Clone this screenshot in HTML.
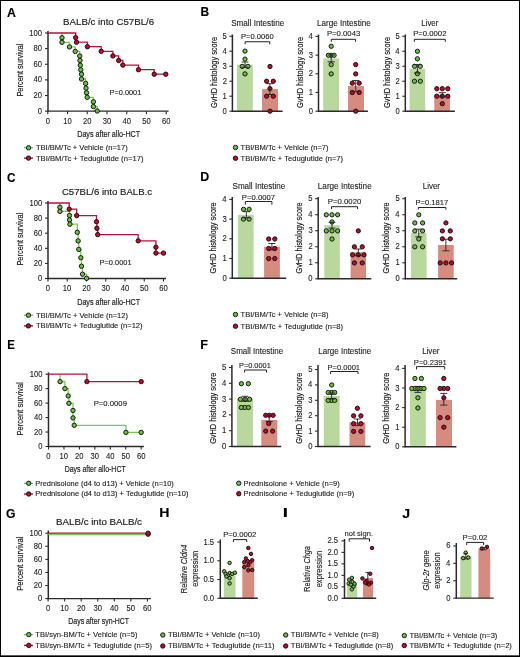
<!DOCTYPE html>
<html><head><meta charset="utf-8"><style>
html,body{margin:0;padding:0;background:#fff;}
svg{display:block;font-family:"Liberation Sans",sans-serif;will-change:transform;}
</style></head><body>
<svg width="520" height="657" viewBox="0 0 520 657">
<rect x="0" y="0" width="520" height="657" fill="#fff"/>
<text x="6.99" y="16.60" font-size="12.2" font-weight="bold" fill="#000" stroke="#000" stroke-width="0.12" textLength="8.93" lengthAdjust="spacingAndGlyphs">A</text>
<text x="63.11" y="24.70" font-size="9.9" fill="#1e1e1e" stroke="#1e1e1e" stroke-width="0.18" textLength="91.02" lengthAdjust="spacingAndGlyphs">BALB/c into C57BL/6</text>
<line x1="45.00" y1="111.15" x2="48.00" y2="111.15" stroke="#2a2a2a" stroke-width="1.1"/>
<text x="37.74" y="113.65" font-size="8.5" fill="#1e1e1e" stroke="#1e1e1e" stroke-width="0.12" textLength="4.25" lengthAdjust="spacingAndGlyphs">0</text>
<line x1="45.00" y1="95.52" x2="48.00" y2="95.52" stroke="#2a2a2a" stroke-width="1.1"/>
<text x="33.49" y="98.02" font-size="8.5" fill="#1e1e1e" stroke="#1e1e1e" stroke-width="0.12" textLength="8.51" lengthAdjust="spacingAndGlyphs">20</text>
<line x1="45.00" y1="79.89" x2="48.00" y2="79.89" stroke="#2a2a2a" stroke-width="1.1"/>
<text x="33.49" y="82.39" font-size="8.5" fill="#1e1e1e" stroke="#1e1e1e" stroke-width="0.12" textLength="8.51" lengthAdjust="spacingAndGlyphs">40</text>
<line x1="45.00" y1="64.26" x2="48.00" y2="64.26" stroke="#2a2a2a" stroke-width="1.1"/>
<text x="33.49" y="66.76" font-size="8.5" fill="#1e1e1e" stroke="#1e1e1e" stroke-width="0.12" textLength="8.51" lengthAdjust="spacingAndGlyphs">60</text>
<line x1="45.00" y1="48.63" x2="48.00" y2="48.63" stroke="#2a2a2a" stroke-width="1.1"/>
<text x="33.49" y="51.13" font-size="8.5" fill="#1e1e1e" stroke="#1e1e1e" stroke-width="0.12" textLength="8.51" lengthAdjust="spacingAndGlyphs">80</text>
<line x1="45.00" y1="33.00" x2="48.00" y2="33.00" stroke="#2a2a2a" stroke-width="1.1"/>
<text x="29.24" y="35.50" font-size="8.5" fill="#1e1e1e" stroke="#1e1e1e" stroke-width="0.12" textLength="12.76" lengthAdjust="spacingAndGlyphs">100</text>
<line x1="47.80" y1="111.15" x2="47.80" y2="114.15" stroke="#2a2a2a" stroke-width="1.1"/>
<text x="45.67" y="123.80" font-size="8.5" fill="#1e1e1e" stroke="#1e1e1e" stroke-width="0.12" textLength="4.25" lengthAdjust="spacingAndGlyphs">0</text>
<line x1="67.53" y1="111.15" x2="67.53" y2="114.15" stroke="#2a2a2a" stroke-width="1.1"/>
<text x="63.14" y="123.80" font-size="8.5" fill="#1e1e1e" stroke="#1e1e1e" stroke-width="0.12" textLength="8.51" lengthAdjust="spacingAndGlyphs">10</text>
<line x1="87.27" y1="111.15" x2="87.27" y2="114.15" stroke="#2a2a2a" stroke-width="1.1"/>
<text x="82.97" y="123.80" font-size="8.5" fill="#1e1e1e" stroke="#1e1e1e" stroke-width="0.12" textLength="8.51" lengthAdjust="spacingAndGlyphs">20</text>
<line x1="107.00" y1="111.15" x2="107.00" y2="114.15" stroke="#2a2a2a" stroke-width="1.1"/>
<text x="102.75" y="123.80" font-size="8.5" fill="#1e1e1e" stroke="#1e1e1e" stroke-width="0.12" textLength="8.51" lengthAdjust="spacingAndGlyphs">30</text>
<line x1="126.73" y1="111.15" x2="126.73" y2="114.15" stroke="#2a2a2a" stroke-width="1.1"/>
<text x="122.54" y="123.80" font-size="8.5" fill="#1e1e1e" stroke="#1e1e1e" stroke-width="0.12" textLength="8.51" lengthAdjust="spacingAndGlyphs">40</text>
<line x1="146.47" y1="111.15" x2="146.47" y2="114.15" stroke="#2a2a2a" stroke-width="1.1"/>
<text x="142.21" y="123.80" font-size="8.5" fill="#1e1e1e" stroke="#1e1e1e" stroke-width="0.12" textLength="8.51" lengthAdjust="spacingAndGlyphs">50</text>
<line x1="166.20" y1="111.15" x2="166.20" y2="114.15" stroke="#2a2a2a" stroke-width="1.1"/>
<text x="161.90" y="123.80" font-size="8.5" fill="#1e1e1e" stroke="#1e1e1e" stroke-width="0.12" textLength="8.51" lengthAdjust="spacingAndGlyphs">60</text>
<line x1="48.00" y1="31.00" x2="48.00" y2="111.65" stroke="#2a2a2a" stroke-width="1.5"/>
<line x1="47.40" y1="111.15" x2="168.60" y2="111.15" stroke="#2a2a2a" stroke-width="1.4"/>
<text transform="rotate(-90)" x="-96.61" y="22.90" font-size="9.7" fill="#1e1e1e" stroke="#1e1e1e" stroke-width="0.2" textLength="52.91" lengthAdjust="spacingAndGlyphs">Percent survival</text>
<text x="77.21" y="136.60" font-size="9.7" fill="#1e1e1e" stroke="#1e1e1e" stroke-width="0.2" textLength="62.95" lengthAdjust="spacingAndGlyphs">Days after allo-HCT</text>
<text x="109.49" y="94.80" font-size="8.0" fill="#1e1e1e" stroke="#1e1e1e" stroke-width="0.12" textLength="31.87" lengthAdjust="spacingAndGlyphs">P=0.0001</text>
<path d="M62.00,33.00 H62.00 V37.70 H62.00 V42.30 H69.50 V46.90 H75.20 V51.40 H79.70 V56.00 H80.00 V60.50 H80.30 V65.30 H80.80 V69.80 H81.50 V74.20 H81.50 V79.00 H85.60 V83.40 H86.00 V88.10 H86.50 V92.70 H87.20 V97.30 H93.40 V101.80 H93.40 V106.60 H97.20 V111.00" stroke="#7dc757" stroke-width="1.3" fill="none"/>
<path d="M47.80,33.00 H75.70 V37.60 H76.50 V42.20 H87.40 V46.70 H101.20 V51.30 H112.90 V55.90 H118.70 V60.50 H122.80 V65.10 H138.50 V69.70 H154.20 V74.20 H165.80 V74.20" stroke="#b8103a" stroke-width="1.3" fill="none"/>
<circle cx="62.00" cy="37.70" r="2.2" fill="#6cbf43" stroke="#111" stroke-width="0.95"/>
<circle cx="62.00" cy="42.30" r="2.2" fill="#6cbf43" stroke="#111" stroke-width="0.95"/>
<circle cx="69.50" cy="46.90" r="2.2" fill="#6cbf43" stroke="#111" stroke-width="0.95"/>
<circle cx="75.20" cy="51.40" r="2.2" fill="#6cbf43" stroke="#111" stroke-width="0.95"/>
<circle cx="79.70" cy="56.00" r="2.2" fill="#6cbf43" stroke="#111" stroke-width="0.95"/>
<circle cx="80.00" cy="60.50" r="2.2" fill="#6cbf43" stroke="#111" stroke-width="0.95"/>
<circle cx="80.30" cy="65.30" r="2.2" fill="#6cbf43" stroke="#111" stroke-width="0.95"/>
<circle cx="80.80" cy="69.80" r="2.2" fill="#6cbf43" stroke="#111" stroke-width="0.95"/>
<circle cx="81.50" cy="74.20" r="2.2" fill="#6cbf43" stroke="#111" stroke-width="0.95"/>
<circle cx="81.50" cy="79.00" r="2.2" fill="#6cbf43" stroke="#111" stroke-width="0.95"/>
<circle cx="85.60" cy="83.40" r="2.2" fill="#6cbf43" stroke="#111" stroke-width="0.95"/>
<circle cx="86.00" cy="88.10" r="2.2" fill="#6cbf43" stroke="#111" stroke-width="0.95"/>
<circle cx="86.50" cy="92.70" r="2.2" fill="#6cbf43" stroke="#111" stroke-width="0.95"/>
<circle cx="87.20" cy="97.30" r="2.2" fill="#6cbf43" stroke="#111" stroke-width="0.95"/>
<circle cx="93.40" cy="101.80" r="2.2" fill="#6cbf43" stroke="#111" stroke-width="0.95"/>
<circle cx="93.40" cy="106.60" r="2.2" fill="#6cbf43" stroke="#111" stroke-width="0.95"/>
<circle cx="97.20" cy="111.00" r="2.2" fill="#6cbf43" stroke="#111" stroke-width="0.95"/>
<circle cx="75.70" cy="37.60" r="2.2" fill="#c8002c" stroke="#111" stroke-width="0.95"/>
<circle cx="76.50" cy="42.20" r="2.2" fill="#c8002c" stroke="#111" stroke-width="0.95"/>
<circle cx="87.40" cy="46.70" r="2.2" fill="#c8002c" stroke="#111" stroke-width="0.95"/>
<circle cx="101.20" cy="51.30" r="2.2" fill="#c8002c" stroke="#111" stroke-width="0.95"/>
<circle cx="112.90" cy="55.90" r="2.2" fill="#c8002c" stroke="#111" stroke-width="0.95"/>
<circle cx="118.70" cy="60.50" r="2.2" fill="#c8002c" stroke="#111" stroke-width="0.95"/>
<circle cx="122.80" cy="65.10" r="2.2" fill="#c8002c" stroke="#111" stroke-width="0.95"/>
<circle cx="138.50" cy="69.70" r="2.2" fill="#c8002c" stroke="#111" stroke-width="0.95"/>
<circle cx="154.20" cy="74.20" r="2.2" fill="#c8002c" stroke="#111" stroke-width="0.95"/>
<circle cx="165.80" cy="74.20" r="2.2" fill="#c8002c" stroke="#111" stroke-width="0.95"/>
<line x1="24.00" y1="147.80" x2="33.00" y2="147.80" stroke="#7dc757" stroke-width="1.4"/>
<circle cx="28.50" cy="147.80" r="2.2" fill="#6cbf43" stroke="#111" stroke-width="0.95"/>
<text x="35.93" y="150.10" font-size="7.7" fill="#1e1e1e" stroke="#1e1e1e" stroke-width="0.12" textLength="91.83" lengthAdjust="spacingAndGlyphs">TBI/BM/Tc + Vehicle (n=17)</text>
<line x1="24.00" y1="158.10" x2="33.00" y2="158.10" stroke="#b8103a" stroke-width="1.4"/>
<circle cx="28.50" cy="158.10" r="2.2" fill="#c8002c" stroke="#111" stroke-width="0.95"/>
<text x="35.93" y="160.50" font-size="7.7" fill="#1e1e1e" stroke="#1e1e1e" stroke-width="0.12" textLength="107.54" lengthAdjust="spacingAndGlyphs">TBI/BM/Tc + Teduglutide (n=17)</text>
<text x="200.40" y="16.40" font-size="12.2" font-weight="bold" fill="#000" stroke="#000" stroke-width="0.12" textLength="8.64" lengthAdjust="spacingAndGlyphs">B</text>
<line x1="229.40" y1="111.20" x2="232.40" y2="111.20" stroke="#2a2a2a" stroke-width="1.1"/>
<text x="222.54" y="113.70" font-size="8.5" fill="#1e1e1e" stroke="#1e1e1e" stroke-width="0.12" textLength="4.25" lengthAdjust="spacingAndGlyphs">0</text>
<line x1="229.40" y1="96.20" x2="232.40" y2="96.20" stroke="#2a2a2a" stroke-width="1.1"/>
<text x="222.62" y="98.70" font-size="8.5" fill="#1e1e1e" stroke="#1e1e1e" stroke-width="0.12" textLength="4.25" lengthAdjust="spacingAndGlyphs">1</text>
<line x1="229.40" y1="81.20" x2="232.40" y2="81.20" stroke="#2a2a2a" stroke-width="1.1"/>
<text x="222.63" y="83.70" font-size="8.5" fill="#1e1e1e" stroke="#1e1e1e" stroke-width="0.12" textLength="4.25" lengthAdjust="spacingAndGlyphs">2</text>
<line x1="229.40" y1="66.20" x2="232.40" y2="66.20" stroke="#2a2a2a" stroke-width="1.1"/>
<text x="222.58" y="68.70" font-size="8.5" fill="#1e1e1e" stroke="#1e1e1e" stroke-width="0.12" textLength="4.25" lengthAdjust="spacingAndGlyphs">3</text>
<line x1="229.40" y1="51.20" x2="232.40" y2="51.20" stroke="#2a2a2a" stroke-width="1.1"/>
<text x="222.47" y="53.70" font-size="8.5" fill="#1e1e1e" stroke="#1e1e1e" stroke-width="0.12" textLength="4.25" lengthAdjust="spacingAndGlyphs">4</text>
<line x1="229.40" y1="36.20" x2="232.40" y2="36.20" stroke="#2a2a2a" stroke-width="1.1"/>
<text x="222.57" y="38.70" font-size="8.5" fill="#1e1e1e" stroke="#1e1e1e" stroke-width="0.12" textLength="4.25" lengthAdjust="spacingAndGlyphs">5</text>
<rect x="237.00" y="64.70" width="15.80" height="46.50" fill="#b9d89e"/>
<rect x="262.00" y="89.10" width="16.00" height="22.10" fill="#d58c7e"/>
<line x1="232.40" y1="34.50" x2="232.40" y2="111.70" stroke="#2a2a2a" stroke-width="1.5"/>
<line x1="231.80" y1="111.20" x2="282.60" y2="111.20" stroke="#2a2a2a" stroke-width="1.4"/>
<circle cx="245.00" cy="51.10" r="2.15" fill="#6cbf43" stroke="#111" stroke-width="0.95"/>
<circle cx="245.00" cy="59.10" r="2.15" fill="#6cbf43" stroke="#111" stroke-width="0.95"/>
<circle cx="242.20" cy="66.40" r="2.15" fill="#6cbf43" stroke="#111" stroke-width="0.95"/>
<circle cx="247.90" cy="66.40" r="2.15" fill="#6cbf43" stroke="#111" stroke-width="0.95"/>
<circle cx="245.00" cy="73.90" r="2.15" fill="#6cbf43" stroke="#111" stroke-width="0.95"/>
<circle cx="270.00" cy="66.50" r="2.15" fill="#c8002c" stroke="#111" stroke-width="0.95"/>
<circle cx="266.60" cy="81.20" r="2.15" fill="#c8002c" stroke="#111" stroke-width="0.95"/>
<circle cx="273.30" cy="81.20" r="2.15" fill="#c8002c" stroke="#111" stroke-width="0.95"/>
<circle cx="269.90" cy="88.60" r="2.15" fill="#c8002c" stroke="#111" stroke-width="0.95"/>
<circle cx="266.60" cy="96.20" r="2.15" fill="#c8002c" stroke="#111" stroke-width="0.95"/>
<circle cx="273.30" cy="96.20" r="2.15" fill="#c8002c" stroke="#111" stroke-width="0.95"/>
<circle cx="270.00" cy="111.20" r="2.15" fill="#c8002c" stroke="#111" stroke-width="0.95"/>
<line x1="245.00" y1="62.00" x2="245.00" y2="67.40" stroke="#222" stroke-width="0.9"/>
<line x1="241.50" y1="62.00" x2="248.50" y2="62.00" stroke="#222" stroke-width="0.9"/>
<line x1="241.50" y1="67.40" x2="248.50" y2="67.40" stroke="#222" stroke-width="0.9"/>
<line x1="269.90" y1="83.70" x2="269.90" y2="94.50" stroke="#222" stroke-width="0.9"/>
<line x1="266.40" y1="83.70" x2="273.40" y2="83.70" stroke="#222" stroke-width="0.9"/>
<line x1="266.40" y1="94.50" x2="273.40" y2="94.50" stroke="#222" stroke-width="0.9"/>
<path d="M245.10,44.30 V41.75 H269.80 V44.30" stroke="#222" stroke-width="1.0" fill="none"/>
<text x="240.98" y="39.30" font-size="8.0" fill="#1e1e1e" stroke="#1e1e1e" stroke-width="0.12" textLength="32.82" lengthAdjust="spacingAndGlyphs">P=0.0060</text>
<text x="231.23" y="25.60" font-size="8.9" fill="#1e1e1e" stroke="#1e1e1e" stroke-width="0.12" textLength="52.93" lengthAdjust="spacingAndGlyphs">Small Intestine</text>
<text transform="rotate(-90)" x="-107.97" y="216.60" font-size="9.6" fill="#1e1e1e" stroke="#1e1e1e" stroke-width="0.2" textLength="71.10" lengthAdjust="spacingAndGlyphs">GvHD histology score</text>
<line x1="315.50" y1="111.20" x2="318.50" y2="111.20" stroke="#2a2a2a" stroke-width="1.1"/>
<text x="308.64" y="113.70" font-size="8.5" fill="#1e1e1e" stroke="#1e1e1e" stroke-width="0.12" textLength="4.25" lengthAdjust="spacingAndGlyphs">0</text>
<line x1="315.50" y1="92.50" x2="318.50" y2="92.50" stroke="#2a2a2a" stroke-width="1.1"/>
<text x="308.72" y="95.00" font-size="8.5" fill="#1e1e1e" stroke="#1e1e1e" stroke-width="0.12" textLength="4.25" lengthAdjust="spacingAndGlyphs">1</text>
<line x1="315.50" y1="73.80" x2="318.50" y2="73.80" stroke="#2a2a2a" stroke-width="1.1"/>
<text x="308.73" y="76.30" font-size="8.5" fill="#1e1e1e" stroke="#1e1e1e" stroke-width="0.12" textLength="4.25" lengthAdjust="spacingAndGlyphs">2</text>
<line x1="315.50" y1="55.10" x2="318.50" y2="55.10" stroke="#2a2a2a" stroke-width="1.1"/>
<text x="308.68" y="57.60" font-size="8.5" fill="#1e1e1e" stroke="#1e1e1e" stroke-width="0.12" textLength="4.25" lengthAdjust="spacingAndGlyphs">3</text>
<line x1="315.50" y1="36.40" x2="318.50" y2="36.40" stroke="#2a2a2a" stroke-width="1.1"/>
<text x="308.57" y="38.90" font-size="8.5" fill="#1e1e1e" stroke="#1e1e1e" stroke-width="0.12" textLength="4.25" lengthAdjust="spacingAndGlyphs">4</text>
<rect x="323.20" y="58.40" width="15.80" height="52.80" fill="#b9d89e"/>
<rect x="348.00" y="86.10" width="16.00" height="25.10" fill="#d58c7e"/>
<line x1="318.50" y1="34.50" x2="318.50" y2="111.70" stroke="#2a2a2a" stroke-width="1.5"/>
<line x1="317.90" y1="111.20" x2="367.90" y2="111.20" stroke="#2a2a2a" stroke-width="1.4"/>
<circle cx="331.20" cy="46.30" r="2.15" fill="#6cbf43" stroke="#111" stroke-width="0.95"/>
<circle cx="331.20" cy="55.30" r="2.15" fill="#6cbf43" stroke="#111" stroke-width="0.95"/>
<circle cx="328.40" cy="55.30" r="2.15" fill="#6cbf43" stroke="#111" stroke-width="0.95"/>
<circle cx="334.10" cy="55.30" r="2.15" fill="#6cbf43" stroke="#111" stroke-width="0.95"/>
<circle cx="331.20" cy="64.60" r="2.15" fill="#6cbf43" stroke="#111" stroke-width="0.95"/>
<circle cx="331.20" cy="73.90" r="2.15" fill="#6cbf43" stroke="#111" stroke-width="0.95"/>
<circle cx="355.70" cy="64.60" r="2.15" fill="#c8002c" stroke="#111" stroke-width="0.95"/>
<circle cx="355.70" cy="73.90" r="2.15" fill="#c8002c" stroke="#111" stroke-width="0.95"/>
<circle cx="352.30" cy="83.20" r="2.15" fill="#c8002c" stroke="#111" stroke-width="0.95"/>
<circle cx="359.20" cy="83.20" r="2.15" fill="#c8002c" stroke="#111" stroke-width="0.95"/>
<circle cx="352.30" cy="92.50" r="2.15" fill="#c8002c" stroke="#111" stroke-width="0.95"/>
<circle cx="359.20" cy="92.50" r="2.15" fill="#c8002c" stroke="#111" stroke-width="0.95"/>
<circle cx="355.70" cy="111.20" r="2.15" fill="#c8002c" stroke="#111" stroke-width="0.95"/>
<line x1="331.20" y1="55.00" x2="331.20" y2="61.80" stroke="#222" stroke-width="0.9"/>
<line x1="327.70" y1="55.00" x2="334.70" y2="55.00" stroke="#222" stroke-width="0.9"/>
<line x1="327.70" y1="61.80" x2="334.70" y2="61.80" stroke="#222" stroke-width="0.9"/>
<line x1="355.70" y1="80.50" x2="355.70" y2="91.70" stroke="#222" stroke-width="0.9"/>
<line x1="352.20" y1="80.50" x2="359.20" y2="80.50" stroke="#222" stroke-width="0.9"/>
<line x1="352.20" y1="91.70" x2="359.20" y2="91.70" stroke="#222" stroke-width="0.9"/>
<path d="M331.30,41.80 V39.30 H355.60 V41.80" stroke="#222" stroke-width="1.0" fill="none"/>
<text x="326.97" y="36.10" font-size="8.0" fill="#1e1e1e" stroke="#1e1e1e" stroke-width="0.12" textLength="33.27" lengthAdjust="spacingAndGlyphs">P=0.0043</text>
<text x="317.03" y="25.60" font-size="8.9" fill="#1e1e1e" stroke="#1e1e1e" stroke-width="0.12" textLength="53.73" lengthAdjust="spacingAndGlyphs">Large Intestine</text>
<text transform="rotate(-90)" x="-107.97" y="302.70" font-size="9.6" fill="#1e1e1e" stroke="#1e1e1e" stroke-width="0.2" textLength="71.10" lengthAdjust="spacingAndGlyphs">GvHD histology score</text>
<line x1="402.30" y1="111.20" x2="405.30" y2="111.20" stroke="#2a2a2a" stroke-width="1.1"/>
<text x="395.44" y="113.70" font-size="8.5" fill="#1e1e1e" stroke="#1e1e1e" stroke-width="0.12" textLength="4.25" lengthAdjust="spacingAndGlyphs">0</text>
<line x1="402.30" y1="96.22" x2="405.30" y2="96.22" stroke="#2a2a2a" stroke-width="1.1"/>
<text x="395.52" y="98.72" font-size="8.5" fill="#1e1e1e" stroke="#1e1e1e" stroke-width="0.12" textLength="4.25" lengthAdjust="spacingAndGlyphs">1</text>
<line x1="402.30" y1="81.24" x2="405.30" y2="81.24" stroke="#2a2a2a" stroke-width="1.1"/>
<text x="395.53" y="83.74" font-size="8.5" fill="#1e1e1e" stroke="#1e1e1e" stroke-width="0.12" textLength="4.25" lengthAdjust="spacingAndGlyphs">2</text>
<line x1="402.30" y1="66.26" x2="405.30" y2="66.26" stroke="#2a2a2a" stroke-width="1.1"/>
<text x="395.48" y="68.76" font-size="8.5" fill="#1e1e1e" stroke="#1e1e1e" stroke-width="0.12" textLength="4.25" lengthAdjust="spacingAndGlyphs">3</text>
<line x1="402.30" y1="51.28" x2="405.30" y2="51.28" stroke="#2a2a2a" stroke-width="1.1"/>
<text x="395.37" y="53.78" font-size="8.5" fill="#1e1e1e" stroke="#1e1e1e" stroke-width="0.12" textLength="4.25" lengthAdjust="spacingAndGlyphs">4</text>
<line x1="402.30" y1="36.30" x2="405.30" y2="36.30" stroke="#2a2a2a" stroke-width="1.1"/>
<text x="395.47" y="38.80" font-size="8.5" fill="#1e1e1e" stroke="#1e1e1e" stroke-width="0.12" textLength="4.25" lengthAdjust="spacingAndGlyphs">5</text>
<rect x="409.60" y="68.80" width="15.60" height="42.40" fill="#b9d89e"/>
<rect x="434.30" y="94.80" width="15.60" height="16.40" fill="#d58c7e"/>
<line x1="405.30" y1="34.50" x2="405.30" y2="111.70" stroke="#2a2a2a" stroke-width="1.5"/>
<line x1="404.70" y1="111.20" x2="454.90" y2="111.20" stroke="#2a2a2a" stroke-width="1.4"/>
<circle cx="417.40" cy="51.30" r="2.15" fill="#6cbf43" stroke="#111" stroke-width="0.95"/>
<circle cx="417.40" cy="58.80" r="2.15" fill="#6cbf43" stroke="#111" stroke-width="0.95"/>
<circle cx="414.50" cy="66.30" r="2.15" fill="#6cbf43" stroke="#111" stroke-width="0.95"/>
<circle cx="420.30" cy="66.30" r="2.15" fill="#6cbf43" stroke="#111" stroke-width="0.95"/>
<circle cx="417.40" cy="73.70" r="2.15" fill="#6cbf43" stroke="#111" stroke-width="0.95"/>
<circle cx="414.50" cy="81.20" r="2.15" fill="#6cbf43" stroke="#111" stroke-width="0.95"/>
<circle cx="420.30" cy="81.20" r="2.15" fill="#6cbf43" stroke="#111" stroke-width="0.95"/>
<circle cx="436.80" cy="88.70" r="2.15" fill="#c8002c" stroke="#111" stroke-width="0.95"/>
<circle cx="442.30" cy="88.70" r="2.15" fill="#c8002c" stroke="#111" stroke-width="0.95"/>
<circle cx="447.80" cy="88.70" r="2.15" fill="#c8002c" stroke="#111" stroke-width="0.95"/>
<circle cx="436.80" cy="96.20" r="2.15" fill="#c8002c" stroke="#111" stroke-width="0.95"/>
<circle cx="442.30" cy="96.20" r="2.15" fill="#c8002c" stroke="#111" stroke-width="0.95"/>
<circle cx="447.80" cy="96.20" r="2.15" fill="#c8002c" stroke="#111" stroke-width="0.95"/>
<circle cx="442.30" cy="103.70" r="2.15" fill="#c8002c" stroke="#111" stroke-width="0.95"/>
<line x1="417.40" y1="64.60" x2="417.40" y2="73.00" stroke="#222" stroke-width="0.9"/>
<line x1="413.90" y1="64.60" x2="420.90" y2="64.60" stroke="#222" stroke-width="0.9"/>
<line x1="413.90" y1="73.00" x2="420.90" y2="73.00" stroke="#222" stroke-width="0.9"/>
<line x1="442.30" y1="92.70" x2="442.30" y2="96.90" stroke="#222" stroke-width="0.9"/>
<line x1="438.80" y1="92.70" x2="445.80" y2="92.70" stroke="#222" stroke-width="0.9"/>
<line x1="438.80" y1="96.90" x2="445.80" y2="96.90" stroke="#222" stroke-width="0.9"/>
<path d="M414.30,41.80 V39.30 H445.30 V41.80" stroke="#222" stroke-width="1.0" fill="none"/>
<text x="413.17" y="36.10" font-size="8.0" fill="#1e1e1e" stroke="#1e1e1e" stroke-width="0.12" textLength="33.32" lengthAdjust="spacingAndGlyphs">P=0.0002</text>
<text x="421.36" y="25.60" font-size="8.9" fill="#1e1e1e" stroke="#1e1e1e" stroke-width="0.12" textLength="16.97" lengthAdjust="spacingAndGlyphs">Liver</text>
<text transform="rotate(-90)" x="-107.97" y="389.50" font-size="9.6" fill="#1e1e1e" stroke="#1e1e1e" stroke-width="0.2" textLength="71.10" lengthAdjust="spacingAndGlyphs">GvHD histology score</text>
<circle cx="235.50" cy="147.50" r="2.2" fill="#6cbf43" stroke="#111" stroke-width="0.95"/>
<text x="240.58" y="149.90" font-size="7.7" fill="#1e1e1e" stroke="#1e1e1e" stroke-width="0.12" textLength="88.00" lengthAdjust="spacingAndGlyphs">TBI/BM/Tc + Vehicle (n=7)</text>
<circle cx="235.50" cy="158.25" r="2.2" fill="#c8002c" stroke="#111" stroke-width="0.95"/>
<text x="240.58" y="160.65" font-size="7.7" fill="#1e1e1e" stroke="#1e1e1e" stroke-width="0.12" textLength="102.53" lengthAdjust="spacingAndGlyphs">TBI/BM/Tc + Teduglutide (n=7)</text>
<text x="6.92" y="181.50" font-size="12.2" font-weight="bold" fill="#000" stroke="#000" stroke-width="0.12" textLength="8.51" lengthAdjust="spacingAndGlyphs">C</text>
<text x="61.91" y="195.20" font-size="9.9" fill="#1e1e1e" stroke="#1e1e1e" stroke-width="0.18" textLength="90.14" lengthAdjust="spacingAndGlyphs">C57BL/6 into BALB.c</text>
<line x1="45.00" y1="278.50" x2="48.00" y2="278.50" stroke="#2a2a2a" stroke-width="1.1"/>
<text x="37.94" y="281.00" font-size="8.5" fill="#1e1e1e" stroke="#1e1e1e" stroke-width="0.12" textLength="4.25" lengthAdjust="spacingAndGlyphs">0</text>
<line x1="45.00" y1="263.40" x2="48.00" y2="263.40" stroke="#2a2a2a" stroke-width="1.1"/>
<text x="33.69" y="265.90" font-size="8.5" fill="#1e1e1e" stroke="#1e1e1e" stroke-width="0.12" textLength="8.51" lengthAdjust="spacingAndGlyphs">20</text>
<line x1="45.00" y1="248.30" x2="48.00" y2="248.30" stroke="#2a2a2a" stroke-width="1.1"/>
<text x="33.69" y="250.80" font-size="8.5" fill="#1e1e1e" stroke="#1e1e1e" stroke-width="0.12" textLength="8.51" lengthAdjust="spacingAndGlyphs">40</text>
<line x1="45.00" y1="233.20" x2="48.00" y2="233.20" stroke="#2a2a2a" stroke-width="1.1"/>
<text x="33.69" y="235.70" font-size="8.5" fill="#1e1e1e" stroke="#1e1e1e" stroke-width="0.12" textLength="8.51" lengthAdjust="spacingAndGlyphs">60</text>
<line x1="45.00" y1="218.10" x2="48.00" y2="218.10" stroke="#2a2a2a" stroke-width="1.1"/>
<text x="33.69" y="220.60" font-size="8.5" fill="#1e1e1e" stroke="#1e1e1e" stroke-width="0.12" textLength="8.51" lengthAdjust="spacingAndGlyphs">80</text>
<line x1="45.00" y1="203.00" x2="48.00" y2="203.00" stroke="#2a2a2a" stroke-width="1.1"/>
<text x="29.44" y="205.50" font-size="8.5" fill="#1e1e1e" stroke="#1e1e1e" stroke-width="0.12" textLength="12.76" lengthAdjust="spacingAndGlyphs">100</text>
<line x1="48.00" y1="278.50" x2="48.00" y2="281.50" stroke="#2a2a2a" stroke-width="1.1"/>
<text x="45.87" y="291.30" font-size="8.5" fill="#1e1e1e" stroke="#1e1e1e" stroke-width="0.12" textLength="4.25" lengthAdjust="spacingAndGlyphs">0</text>
<line x1="67.25" y1="278.50" x2="67.25" y2="281.50" stroke="#2a2a2a" stroke-width="1.1"/>
<text x="62.85" y="291.30" font-size="8.5" fill="#1e1e1e" stroke="#1e1e1e" stroke-width="0.12" textLength="8.51" lengthAdjust="spacingAndGlyphs">10</text>
<line x1="86.50" y1="278.50" x2="86.50" y2="281.50" stroke="#2a2a2a" stroke-width="1.1"/>
<text x="82.20" y="291.30" font-size="8.5" fill="#1e1e1e" stroke="#1e1e1e" stroke-width="0.12" textLength="8.51" lengthAdjust="spacingAndGlyphs">20</text>
<line x1="105.75" y1="278.50" x2="105.75" y2="281.50" stroke="#2a2a2a" stroke-width="1.1"/>
<text x="101.50" y="291.30" font-size="8.5" fill="#1e1e1e" stroke="#1e1e1e" stroke-width="0.12" textLength="8.51" lengthAdjust="spacingAndGlyphs">30</text>
<line x1="125.00" y1="278.50" x2="125.00" y2="281.50" stroke="#2a2a2a" stroke-width="1.1"/>
<text x="120.81" y="291.30" font-size="8.5" fill="#1e1e1e" stroke="#1e1e1e" stroke-width="0.12" textLength="8.51" lengthAdjust="spacingAndGlyphs">40</text>
<line x1="144.25" y1="278.50" x2="144.25" y2="281.50" stroke="#2a2a2a" stroke-width="1.1"/>
<text x="139.99" y="291.30" font-size="8.5" fill="#1e1e1e" stroke="#1e1e1e" stroke-width="0.12" textLength="8.51" lengthAdjust="spacingAndGlyphs">50</text>
<line x1="163.50" y1="278.50" x2="163.50" y2="281.50" stroke="#2a2a2a" stroke-width="1.1"/>
<text x="159.20" y="291.30" font-size="8.5" fill="#1e1e1e" stroke="#1e1e1e" stroke-width="0.12" textLength="8.51" lengthAdjust="spacingAndGlyphs">60</text>
<line x1="48.00" y1="201.00" x2="48.00" y2="279.00" stroke="#2a2a2a" stroke-width="1.5"/>
<line x1="47.40" y1="278.50" x2="166.00" y2="278.50" stroke="#2a2a2a" stroke-width="1.4"/>
<text transform="rotate(-90)" x="-265.61" y="22.90" font-size="9.7" fill="#1e1e1e" stroke="#1e1e1e" stroke-width="0.2" textLength="52.81" lengthAdjust="spacingAndGlyphs">Percent survival</text>
<text x="77.21" y="304.60" font-size="9.7" fill="#1e1e1e" stroke="#1e1e1e" stroke-width="0.2" textLength="62.95" lengthAdjust="spacingAndGlyphs">Days after allo-HCT</text>
<text x="99.49" y="265.30" font-size="8.0" fill="#1e1e1e" stroke="#1e1e1e" stroke-width="0.12" textLength="32.07" lengthAdjust="spacingAndGlyphs">P=0.0001</text>
<path d="M59.90,203.00 H59.90 V207.30 H59.90 V211.40 H69.50 V215.50 H69.50 V219.90 H69.90 V224.20 H77.30 V232.30 H78.10 V240.90 H78.80 V249.40 H80.80 V257.70 H81.50 V266.20 H82.50 V274.20 H86.60 V278.30" stroke="#7dc757" stroke-width="1.3" fill="none"/>
<path d="M48.00,203.00 H69.20 V209.10 H76.70 V215.60 H96.50 V221.70 H96.90 V228.30 H97.70 V234.60 H138.20 V240.80 H155.90 V247.20 H155.90 V253.10 H163.50 V253.10" stroke="#b8103a" stroke-width="1.3" fill="none"/>
<circle cx="59.90" cy="207.30" r="2.2" fill="#6cbf43" stroke="#111" stroke-width="0.95"/>
<circle cx="59.90" cy="211.40" r="2.2" fill="#6cbf43" stroke="#111" stroke-width="0.95"/>
<circle cx="69.50" cy="215.50" r="2.2" fill="#6cbf43" stroke="#111" stroke-width="0.95"/>
<circle cx="69.50" cy="219.90" r="2.2" fill="#6cbf43" stroke="#111" stroke-width="0.95"/>
<circle cx="69.90" cy="224.20" r="2.2" fill="#6cbf43" stroke="#111" stroke-width="0.95"/>
<circle cx="77.30" cy="232.30" r="2.2" fill="#6cbf43" stroke="#111" stroke-width="0.95"/>
<circle cx="78.10" cy="240.90" r="2.2" fill="#6cbf43" stroke="#111" stroke-width="0.95"/>
<circle cx="78.80" cy="249.40" r="2.2" fill="#6cbf43" stroke="#111" stroke-width="0.95"/>
<circle cx="80.80" cy="257.70" r="2.2" fill="#6cbf43" stroke="#111" stroke-width="0.95"/>
<circle cx="81.50" cy="266.20" r="2.2" fill="#6cbf43" stroke="#111" stroke-width="0.95"/>
<circle cx="82.50" cy="274.20" r="2.2" fill="#6cbf43" stroke="#111" stroke-width="0.95"/>
<circle cx="86.60" cy="278.30" r="2.2" fill="#6cbf43" stroke="#111" stroke-width="0.95"/>
<circle cx="69.20" cy="209.10" r="2.2" fill="#c8002c" stroke="#111" stroke-width="0.95"/>
<circle cx="76.70" cy="215.60" r="2.2" fill="#c8002c" stroke="#111" stroke-width="0.95"/>
<circle cx="96.50" cy="221.70" r="2.2" fill="#c8002c" stroke="#111" stroke-width="0.95"/>
<circle cx="96.90" cy="228.30" r="2.2" fill="#c8002c" stroke="#111" stroke-width="0.95"/>
<circle cx="97.70" cy="234.60" r="2.2" fill="#c8002c" stroke="#111" stroke-width="0.95"/>
<circle cx="138.20" cy="240.80" r="2.2" fill="#c8002c" stroke="#111" stroke-width="0.95"/>
<circle cx="155.90" cy="247.20" r="2.2" fill="#c8002c" stroke="#111" stroke-width="0.95"/>
<circle cx="155.90" cy="253.10" r="2.2" fill="#c8002c" stroke="#111" stroke-width="0.95"/>
<circle cx="163.50" cy="253.10" r="2.2" fill="#c8002c" stroke="#111" stroke-width="0.95"/>
<line x1="24.00" y1="315.20" x2="33.00" y2="315.20" stroke="#7dc757" stroke-width="1.4"/>
<circle cx="28.40" cy="315.20" r="2.2" fill="#6cbf43" stroke="#111" stroke-width="0.95"/>
<text x="35.93" y="317.50" font-size="7.7" fill="#1e1e1e" stroke="#1e1e1e" stroke-width="0.12" textLength="92.15" lengthAdjust="spacingAndGlyphs">TBI/BM/Tc + Vehicle (n=12)</text>
<line x1="24.00" y1="325.90" x2="33.00" y2="325.90" stroke="#b8103a" stroke-width="1.4"/>
<circle cx="28.40" cy="325.90" r="2.2" fill="#c8002c" stroke="#111" stroke-width="0.95"/>
<text x="35.93" y="328.20" font-size="7.7" fill="#1e1e1e" stroke="#1e1e1e" stroke-width="0.12" textLength="106.69" lengthAdjust="spacingAndGlyphs">TBI/BM/Tc + Teduglutide (n=12)</text>
<text x="200.37" y="181.30" font-size="12.2" font-weight="bold" fill="#000" stroke="#000" stroke-width="0.12" textLength="8.95" lengthAdjust="spacingAndGlyphs">D</text>
<line x1="229.30" y1="278.20" x2="232.30" y2="278.20" stroke="#2a2a2a" stroke-width="1.1"/>
<text x="222.44" y="280.70" font-size="8.5" fill="#1e1e1e" stroke="#1e1e1e" stroke-width="0.12" textLength="4.25" lengthAdjust="spacingAndGlyphs">0</text>
<line x1="229.30" y1="258.50" x2="232.30" y2="258.50" stroke="#2a2a2a" stroke-width="1.1"/>
<text x="222.52" y="261.00" font-size="8.5" fill="#1e1e1e" stroke="#1e1e1e" stroke-width="0.12" textLength="4.25" lengthAdjust="spacingAndGlyphs">1</text>
<line x1="229.30" y1="238.80" x2="232.30" y2="238.80" stroke="#2a2a2a" stroke-width="1.1"/>
<text x="222.53" y="241.30" font-size="8.5" fill="#1e1e1e" stroke="#1e1e1e" stroke-width="0.12" textLength="4.25" lengthAdjust="spacingAndGlyphs">2</text>
<line x1="229.30" y1="219.10" x2="232.30" y2="219.10" stroke="#2a2a2a" stroke-width="1.1"/>
<text x="222.48" y="221.60" font-size="8.5" fill="#1e1e1e" stroke="#1e1e1e" stroke-width="0.12" textLength="4.25" lengthAdjust="spacingAndGlyphs">3</text>
<line x1="229.30" y1="199.40" x2="232.30" y2="199.40" stroke="#2a2a2a" stroke-width="1.1"/>
<text x="222.37" y="201.90" font-size="8.5" fill="#1e1e1e" stroke="#1e1e1e" stroke-width="0.12" textLength="4.25" lengthAdjust="spacingAndGlyphs">4</text>
<rect x="237.90" y="214.80" width="15.80" height="63.40" fill="#b9d89e"/>
<rect x="264.10" y="246.70" width="15.80" height="31.50" fill="#d58c7e"/>
<line x1="232.30" y1="197.00" x2="232.30" y2="278.70" stroke="#2a2a2a" stroke-width="1.5"/>
<line x1="231.70" y1="278.20" x2="286.20" y2="278.20" stroke="#2a2a2a" stroke-width="1.4"/>
<circle cx="243.50" cy="209.30" r="2.15" fill="#6cbf43" stroke="#111" stroke-width="0.95"/>
<circle cx="249.10" cy="209.30" r="2.15" fill="#6cbf43" stroke="#111" stroke-width="0.95"/>
<circle cx="243.50" cy="219.10" r="2.15" fill="#6cbf43" stroke="#111" stroke-width="0.95"/>
<circle cx="249.10" cy="219.10" r="2.15" fill="#6cbf43" stroke="#111" stroke-width="0.95"/>
<circle cx="268.70" cy="239.00" r="2.15" fill="#c8002c" stroke="#111" stroke-width="0.95"/>
<circle cx="274.80" cy="239.00" r="2.15" fill="#c8002c" stroke="#111" stroke-width="0.95"/>
<circle cx="268.70" cy="248.50" r="2.15" fill="#c8002c" stroke="#111" stroke-width="0.95"/>
<circle cx="274.80" cy="248.50" r="2.15" fill="#c8002c" stroke="#111" stroke-width="0.95"/>
<circle cx="268.70" cy="258.60" r="2.15" fill="#c8002c" stroke="#111" stroke-width="0.95"/>
<circle cx="274.80" cy="258.60" r="2.15" fill="#c8002c" stroke="#111" stroke-width="0.95"/>
<line x1="246.30" y1="211.70" x2="246.30" y2="217.90" stroke="#222" stroke-width="0.9"/>
<line x1="242.80" y1="211.70" x2="249.80" y2="211.70" stroke="#222" stroke-width="0.9"/>
<line x1="242.80" y1="217.90" x2="249.80" y2="217.90" stroke="#222" stroke-width="0.9"/>
<line x1="271.90" y1="243.50" x2="271.90" y2="249.90" stroke="#222" stroke-width="0.9"/>
<line x1="268.40" y1="243.50" x2="275.40" y2="243.50" stroke="#222" stroke-width="0.9"/>
<line x1="268.40" y1="249.90" x2="275.40" y2="249.90" stroke="#222" stroke-width="0.9"/>
<path d="M245.30,204.70 V201.50 H271.90 V204.70" stroke="#222" stroke-width="1.0" fill="none"/>
<text x="241.87" y="199.60" font-size="8.0" fill="#1e1e1e" stroke="#1e1e1e" stroke-width="0.12" textLength="33.22" lengthAdjust="spacingAndGlyphs">P=0.0007</text>
<text x="232.53" y="189.00" font-size="8.9" fill="#1e1e1e" stroke="#1e1e1e" stroke-width="0.12" textLength="52.82" lengthAdjust="spacingAndGlyphs">Small Intestine</text>
<text transform="rotate(-90)" x="-273.57" y="216.40" font-size="9.6" fill="#1e1e1e" stroke="#1e1e1e" stroke-width="0.2" textLength="71.10" lengthAdjust="spacingAndGlyphs">GvHD histology score</text>
<line x1="315.20" y1="278.80" x2="318.20" y2="278.80" stroke="#2a2a2a" stroke-width="1.1"/>
<text x="308.34" y="281.30" font-size="8.5" fill="#1e1e1e" stroke="#1e1e1e" stroke-width="0.12" textLength="4.25" lengthAdjust="spacingAndGlyphs">0</text>
<line x1="315.20" y1="262.78" x2="318.20" y2="262.78" stroke="#2a2a2a" stroke-width="1.1"/>
<text x="308.42" y="265.28" font-size="8.5" fill="#1e1e1e" stroke="#1e1e1e" stroke-width="0.12" textLength="4.25" lengthAdjust="spacingAndGlyphs">1</text>
<line x1="315.20" y1="246.76" x2="318.20" y2="246.76" stroke="#2a2a2a" stroke-width="1.1"/>
<text x="308.43" y="249.26" font-size="8.5" fill="#1e1e1e" stroke="#1e1e1e" stroke-width="0.12" textLength="4.25" lengthAdjust="spacingAndGlyphs">2</text>
<line x1="315.20" y1="230.74" x2="318.20" y2="230.74" stroke="#2a2a2a" stroke-width="1.1"/>
<text x="308.38" y="233.24" font-size="8.5" fill="#1e1e1e" stroke="#1e1e1e" stroke-width="0.12" textLength="4.25" lengthAdjust="spacingAndGlyphs">3</text>
<line x1="315.20" y1="214.72" x2="318.20" y2="214.72" stroke="#2a2a2a" stroke-width="1.1"/>
<text x="308.27" y="217.22" font-size="8.5" fill="#1e1e1e" stroke="#1e1e1e" stroke-width="0.12" textLength="4.25" lengthAdjust="spacingAndGlyphs">4</text>
<line x1="315.20" y1="198.70" x2="318.20" y2="198.70" stroke="#2a2a2a" stroke-width="1.1"/>
<text x="308.37" y="201.20" font-size="8.5" fill="#1e1e1e" stroke="#1e1e1e" stroke-width="0.12" textLength="4.25" lengthAdjust="spacingAndGlyphs">5</text>
<rect x="324.30" y="225.20" width="15.50" height="53.60" fill="#b9d89e"/>
<rect x="350.60" y="252.30" width="15.50" height="26.50" fill="#d58c7e"/>
<line x1="318.20" y1="197.00" x2="318.20" y2="279.30" stroke="#2a2a2a" stroke-width="1.5"/>
<line x1="317.60" y1="278.80" x2="371.30" y2="278.80" stroke="#2a2a2a" stroke-width="1.4"/>
<circle cx="326.30" cy="214.80" r="2.15" fill="#6cbf43" stroke="#111" stroke-width="0.95"/>
<circle cx="332.00" cy="214.80" r="2.15" fill="#6cbf43" stroke="#111" stroke-width="0.95"/>
<circle cx="337.60" cy="214.80" r="2.15" fill="#6cbf43" stroke="#111" stroke-width="0.95"/>
<circle cx="332.00" cy="222.00" r="2.15" fill="#6cbf43" stroke="#111" stroke-width="0.95"/>
<circle cx="326.30" cy="230.90" r="2.15" fill="#6cbf43" stroke="#111" stroke-width="0.95"/>
<circle cx="332.00" cy="230.90" r="2.15" fill="#6cbf43" stroke="#111" stroke-width="0.95"/>
<circle cx="337.60" cy="230.90" r="2.15" fill="#6cbf43" stroke="#111" stroke-width="0.95"/>
<circle cx="332.00" cy="239.00" r="2.15" fill="#6cbf43" stroke="#111" stroke-width="0.95"/>
<circle cx="358.30" cy="230.90" r="2.15" fill="#c8002c" stroke="#111" stroke-width="0.95"/>
<circle cx="354.40" cy="246.80" r="2.15" fill="#c8002c" stroke="#111" stroke-width="0.95"/>
<circle cx="362.30" cy="246.80" r="2.15" fill="#c8002c" stroke="#111" stroke-width="0.95"/>
<circle cx="352.60" cy="254.80" r="2.15" fill="#c8002c" stroke="#111" stroke-width="0.95"/>
<circle cx="358.30" cy="254.80" r="2.15" fill="#c8002c" stroke="#111" stroke-width="0.95"/>
<circle cx="364.00" cy="254.80" r="2.15" fill="#c8002c" stroke="#111" stroke-width="0.95"/>
<circle cx="354.40" cy="262.90" r="2.15" fill="#c8002c" stroke="#111" stroke-width="0.95"/>
<circle cx="362.30" cy="262.90" r="2.15" fill="#c8002c" stroke="#111" stroke-width="0.95"/>
<line x1="332.00" y1="222.30" x2="332.00" y2="228.10" stroke="#222" stroke-width="0.9"/>
<line x1="328.50" y1="222.30" x2="335.50" y2="222.30" stroke="#222" stroke-width="0.9"/>
<line x1="328.50" y1="228.10" x2="335.50" y2="228.10" stroke="#222" stroke-width="0.9"/>
<line x1="358.30" y1="249.00" x2="358.30" y2="255.60" stroke="#222" stroke-width="0.9"/>
<line x1="354.80" y1="249.00" x2="361.80" y2="249.00" stroke="#222" stroke-width="0.9"/>
<line x1="354.80" y1="255.60" x2="361.80" y2="255.60" stroke="#222" stroke-width="0.9"/>
<path d="M331.50,209.00 V206.70 H357.50 V209.00" stroke="#222" stroke-width="1.0" fill="none"/>
<text x="327.76" y="204.40" font-size="8.0" fill="#1e1e1e" stroke="#1e1e1e" stroke-width="0.12" textLength="33.54" lengthAdjust="spacingAndGlyphs">P=0.0020</text>
<text x="317.83" y="189.00" font-size="8.9" fill="#1e1e1e" stroke="#1e1e1e" stroke-width="0.12" textLength="53.83" lengthAdjust="spacingAndGlyphs">Large Intestine</text>
<text transform="rotate(-90)" x="-273.57" y="302.30" font-size="9.6" fill="#1e1e1e" stroke="#1e1e1e" stroke-width="0.2" textLength="71.10" lengthAdjust="spacingAndGlyphs">GvHD histology score</text>
<line x1="402.30" y1="278.80" x2="405.30" y2="278.80" stroke="#2a2a2a" stroke-width="1.1"/>
<text x="395.44" y="281.30" font-size="8.5" fill="#1e1e1e" stroke="#1e1e1e" stroke-width="0.12" textLength="4.25" lengthAdjust="spacingAndGlyphs">0</text>
<line x1="402.30" y1="262.78" x2="405.30" y2="262.78" stroke="#2a2a2a" stroke-width="1.1"/>
<text x="395.52" y="265.28" font-size="8.5" fill="#1e1e1e" stroke="#1e1e1e" stroke-width="0.12" textLength="4.25" lengthAdjust="spacingAndGlyphs">1</text>
<line x1="402.30" y1="246.76" x2="405.30" y2="246.76" stroke="#2a2a2a" stroke-width="1.1"/>
<text x="395.53" y="249.26" font-size="8.5" fill="#1e1e1e" stroke="#1e1e1e" stroke-width="0.12" textLength="4.25" lengthAdjust="spacingAndGlyphs">2</text>
<line x1="402.30" y1="230.74" x2="405.30" y2="230.74" stroke="#2a2a2a" stroke-width="1.1"/>
<text x="395.48" y="233.24" font-size="8.5" fill="#1e1e1e" stroke="#1e1e1e" stroke-width="0.12" textLength="4.25" lengthAdjust="spacingAndGlyphs">3</text>
<line x1="402.30" y1="214.72" x2="405.30" y2="214.72" stroke="#2a2a2a" stroke-width="1.1"/>
<text x="395.37" y="217.22" font-size="8.5" fill="#1e1e1e" stroke="#1e1e1e" stroke-width="0.12" textLength="4.25" lengthAdjust="spacingAndGlyphs">4</text>
<line x1="402.30" y1="198.70" x2="405.30" y2="198.70" stroke="#2a2a2a" stroke-width="1.1"/>
<text x="395.47" y="201.20" font-size="8.5" fill="#1e1e1e" stroke="#1e1e1e" stroke-width="0.12" textLength="4.25" lengthAdjust="spacingAndGlyphs">5</text>
<rect x="411.00" y="233.00" width="15.60" height="45.80" fill="#b9d89e"/>
<rect x="438.10" y="245.00" width="15.60" height="33.80" fill="#d58c7e"/>
<line x1="405.30" y1="197.00" x2="405.30" y2="279.30" stroke="#2a2a2a" stroke-width="1.5"/>
<line x1="404.70" y1="278.80" x2="457.20" y2="278.80" stroke="#2a2a2a" stroke-width="1.4"/>
<circle cx="418.80" cy="214.80" r="2.15" fill="#6cbf43" stroke="#111" stroke-width="0.95"/>
<circle cx="414.80" cy="222.90" r="2.15" fill="#6cbf43" stroke="#111" stroke-width="0.95"/>
<circle cx="422.60" cy="222.90" r="2.15" fill="#6cbf43" stroke="#111" stroke-width="0.95"/>
<circle cx="414.80" cy="230.90" r="2.15" fill="#6cbf43" stroke="#111" stroke-width="0.95"/>
<circle cx="422.60" cy="230.90" r="2.15" fill="#6cbf43" stroke="#111" stroke-width="0.95"/>
<circle cx="418.80" cy="239.00" r="2.15" fill="#6cbf43" stroke="#111" stroke-width="0.95"/>
<circle cx="414.80" cy="246.80" r="2.15" fill="#6cbf43" stroke="#111" stroke-width="0.95"/>
<circle cx="422.60" cy="246.80" r="2.15" fill="#6cbf43" stroke="#111" stroke-width="0.95"/>
<circle cx="445.90" cy="222.90" r="2.15" fill="#c8002c" stroke="#111" stroke-width="0.95"/>
<circle cx="442.40" cy="230.90" r="2.15" fill="#c8002c" stroke="#111" stroke-width="0.95"/>
<circle cx="450.30" cy="230.90" r="2.15" fill="#c8002c" stroke="#111" stroke-width="0.95"/>
<circle cx="442.40" cy="238.80" r="2.15" fill="#c8002c" stroke="#111" stroke-width="0.95"/>
<circle cx="450.30" cy="238.80" r="2.15" fill="#c8002c" stroke="#111" stroke-width="0.95"/>
<circle cx="440.20" cy="262.90" r="2.15" fill="#c8002c" stroke="#111" stroke-width="0.95"/>
<circle cx="445.90" cy="262.90" r="2.15" fill="#c8002c" stroke="#111" stroke-width="0.95"/>
<circle cx="451.60" cy="262.90" r="2.15" fill="#c8002c" stroke="#111" stroke-width="0.95"/>
<line x1="418.80" y1="229.20" x2="418.80" y2="236.80" stroke="#222" stroke-width="0.9"/>
<line x1="415.30" y1="229.20" x2="422.30" y2="229.20" stroke="#222" stroke-width="0.9"/>
<line x1="415.30" y1="236.80" x2="422.30" y2="236.80" stroke="#222" stroke-width="0.9"/>
<line x1="445.90" y1="239.20" x2="445.90" y2="250.80" stroke="#222" stroke-width="0.9"/>
<line x1="442.40" y1="239.20" x2="449.40" y2="239.20" stroke="#222" stroke-width="0.9"/>
<line x1="442.40" y1="250.80" x2="449.40" y2="250.80" stroke="#222" stroke-width="0.9"/>
<path d="M418.30,209.60 V207.50 H445.90 V209.60" stroke="#222" stroke-width="1.0" fill="none"/>
<text x="415.58" y="205.30" font-size="8.0" fill="#1e1e1e" stroke="#1e1e1e" stroke-width="0.12" textLength="32.50" lengthAdjust="spacingAndGlyphs">P=0.1817</text>
<text x="422.75" y="189.00" font-size="8.9" fill="#1e1e1e" stroke="#1e1e1e" stroke-width="0.12" textLength="17.29" lengthAdjust="spacingAndGlyphs">Liver</text>
<text transform="rotate(-90)" x="-273.57" y="389.40" font-size="9.6" fill="#1e1e1e" stroke="#1e1e1e" stroke-width="0.2" textLength="71.10" lengthAdjust="spacingAndGlyphs">GvHD histology score</text>
<circle cx="235.50" cy="314.50" r="2.2" fill="#6cbf43" stroke="#111" stroke-width="0.95"/>
<text x="240.58" y="316.90" font-size="7.7" fill="#1e1e1e" stroke="#1e1e1e" stroke-width="0.12" textLength="88.00" lengthAdjust="spacingAndGlyphs">TBI/BM/Tc + Vehicle (n=8)</text>
<circle cx="235.50" cy="326.20" r="2.2" fill="#c8002c" stroke="#111" stroke-width="0.95"/>
<text x="240.58" y="328.60" font-size="7.7" fill="#1e1e1e" stroke="#1e1e1e" stroke-width="0.12" textLength="102.53" lengthAdjust="spacingAndGlyphs">TBI/BM/Tc + Teduglutide (n=8)</text>
<text x="7.24" y="348.90" font-size="12.2" font-weight="bold" fill="#000" stroke="#000" stroke-width="0.12" textLength="7.61" lengthAdjust="spacingAndGlyphs">E</text>
<line x1="45.50" y1="446.50" x2="48.50" y2="446.50" stroke="#2a2a2a" stroke-width="1.1"/>
<text x="38.24" y="449.00" font-size="8.5" fill="#1e1e1e" stroke="#1e1e1e" stroke-width="0.12" textLength="4.25" lengthAdjust="spacingAndGlyphs">0</text>
<line x1="45.50" y1="432.04" x2="48.50" y2="432.04" stroke="#2a2a2a" stroke-width="1.1"/>
<text x="33.99" y="434.54" font-size="8.5" fill="#1e1e1e" stroke="#1e1e1e" stroke-width="0.12" textLength="8.51" lengthAdjust="spacingAndGlyphs">20</text>
<line x1="45.50" y1="417.58" x2="48.50" y2="417.58" stroke="#2a2a2a" stroke-width="1.1"/>
<text x="33.99" y="420.08" font-size="8.5" fill="#1e1e1e" stroke="#1e1e1e" stroke-width="0.12" textLength="8.51" lengthAdjust="spacingAndGlyphs">40</text>
<line x1="45.50" y1="403.12" x2="48.50" y2="403.12" stroke="#2a2a2a" stroke-width="1.1"/>
<text x="33.99" y="405.62" font-size="8.5" fill="#1e1e1e" stroke="#1e1e1e" stroke-width="0.12" textLength="8.51" lengthAdjust="spacingAndGlyphs">60</text>
<line x1="45.50" y1="388.66" x2="48.50" y2="388.66" stroke="#2a2a2a" stroke-width="1.1"/>
<text x="33.99" y="391.16" font-size="8.5" fill="#1e1e1e" stroke="#1e1e1e" stroke-width="0.12" textLength="8.51" lengthAdjust="spacingAndGlyphs">80</text>
<line x1="45.50" y1="374.20" x2="48.50" y2="374.20" stroke="#2a2a2a" stroke-width="1.1"/>
<text x="29.74" y="376.70" font-size="8.5" fill="#1e1e1e" stroke="#1e1e1e" stroke-width="0.12" textLength="12.76" lengthAdjust="spacingAndGlyphs">100</text>
<line x1="48.50" y1="446.50" x2="48.50" y2="449.50" stroke="#2a2a2a" stroke-width="1.1"/>
<text x="46.37" y="459.40" font-size="8.5" fill="#1e1e1e" stroke="#1e1e1e" stroke-width="0.12" textLength="4.25" lengthAdjust="spacingAndGlyphs">0</text>
<line x1="63.95" y1="446.50" x2="63.95" y2="449.50" stroke="#2a2a2a" stroke-width="1.1"/>
<text x="59.55" y="459.40" font-size="8.5" fill="#1e1e1e" stroke="#1e1e1e" stroke-width="0.12" textLength="8.51" lengthAdjust="spacingAndGlyphs">10</text>
<line x1="79.40" y1="446.50" x2="79.40" y2="449.50" stroke="#2a2a2a" stroke-width="1.1"/>
<text x="75.10" y="459.40" font-size="8.5" fill="#1e1e1e" stroke="#1e1e1e" stroke-width="0.12" textLength="8.51" lengthAdjust="spacingAndGlyphs">20</text>
<line x1="94.85" y1="446.50" x2="94.85" y2="449.50" stroke="#2a2a2a" stroke-width="1.1"/>
<text x="90.60" y="459.40" font-size="8.5" fill="#1e1e1e" stroke="#1e1e1e" stroke-width="0.12" textLength="8.51" lengthAdjust="spacingAndGlyphs">30</text>
<line x1="110.30" y1="446.50" x2="110.30" y2="449.50" stroke="#2a2a2a" stroke-width="1.1"/>
<text x="106.11" y="459.40" font-size="8.5" fill="#1e1e1e" stroke="#1e1e1e" stroke-width="0.12" textLength="8.51" lengthAdjust="spacingAndGlyphs">40</text>
<line x1="125.75" y1="446.50" x2="125.75" y2="449.50" stroke="#2a2a2a" stroke-width="1.1"/>
<text x="121.49" y="459.40" font-size="8.5" fill="#1e1e1e" stroke="#1e1e1e" stroke-width="0.12" textLength="8.51" lengthAdjust="spacingAndGlyphs">50</text>
<line x1="141.20" y1="446.50" x2="141.20" y2="449.50" stroke="#2a2a2a" stroke-width="1.1"/>
<text x="136.90" y="459.40" font-size="8.5" fill="#1e1e1e" stroke="#1e1e1e" stroke-width="0.12" textLength="8.51" lengthAdjust="spacingAndGlyphs">60</text>
<line x1="48.50" y1="372.40" x2="48.50" y2="447.00" stroke="#2a2a2a" stroke-width="1.5"/>
<line x1="47.90" y1="446.50" x2="143.90" y2="446.50" stroke="#2a2a2a" stroke-width="1.4"/>
<text transform="rotate(-90)" x="-435.41" y="23.20" font-size="9.7" fill="#1e1e1e" stroke="#1e1e1e" stroke-width="0.2" textLength="53.11" lengthAdjust="spacingAndGlyphs">Percent survival</text>
<text x="64.63" y="472.00" font-size="9.7" fill="#1e1e1e" stroke="#1e1e1e" stroke-width="0.2" textLength="61.03" lengthAdjust="spacingAndGlyphs">Days after allo-HCT</text>
<text x="93.67" y="406.00" font-size="8.0" fill="#1e1e1e" stroke="#1e1e1e" stroke-width="0.12" textLength="33.30" lengthAdjust="spacingAndGlyphs">P=0.0009</text>
<path d="M60.10,374.20 H60.10 V381.60 H64.90 V388.60 H68.20 V395.90 H68.90 V403.30 H73.00 V410.50 H73.00 V417.90 H74.20 V425.30 H125.90 V432.40 H141.20 V432.40" stroke="#7dc757" stroke-width="1.3" fill="none"/>
<path d="M48.50,374.20 H86.90 V381.60 H141.20 V381.60" stroke="#b8103a" stroke-width="1.3" fill="none"/>
<circle cx="60.10" cy="381.60" r="2.2" fill="#6cbf43" stroke="#111" stroke-width="0.95"/>
<circle cx="64.90" cy="388.60" r="2.2" fill="#6cbf43" stroke="#111" stroke-width="0.95"/>
<circle cx="68.20" cy="395.90" r="2.2" fill="#6cbf43" stroke="#111" stroke-width="0.95"/>
<circle cx="68.90" cy="403.30" r="2.2" fill="#6cbf43" stroke="#111" stroke-width="0.95"/>
<circle cx="73.00" cy="410.50" r="2.2" fill="#6cbf43" stroke="#111" stroke-width="0.95"/>
<circle cx="73.00" cy="417.90" r="2.2" fill="#6cbf43" stroke="#111" stroke-width="0.95"/>
<circle cx="74.20" cy="425.30" r="2.2" fill="#6cbf43" stroke="#111" stroke-width="0.95"/>
<circle cx="125.90" cy="432.40" r="2.2" fill="#6cbf43" stroke="#111" stroke-width="0.95"/>
<circle cx="141.20" cy="432.40" r="2.2" fill="#6cbf43" stroke="#111" stroke-width="0.95"/>
<circle cx="86.90" cy="381.60" r="2.2" fill="#c8002c" stroke="#111" stroke-width="0.95"/>
<circle cx="141.20" cy="381.60" r="2.2" fill="#c8002c" stroke="#111" stroke-width="0.95"/>
<line x1="24.00" y1="483.30" x2="33.00" y2="483.30" stroke="#7dc757" stroke-width="1.4"/>
<circle cx="28.70" cy="483.30" r="2.2" fill="#6cbf43" stroke="#111" stroke-width="0.95"/>
<text x="35.19" y="485.60" font-size="7.7" fill="#1e1e1e" stroke="#1e1e1e" stroke-width="0.12" textLength="138.68" lengthAdjust="spacingAndGlyphs">Prednisolone (d4 to d13) + Vehicle (n=10)</text>
<line x1="24.00" y1="494.00" x2="33.00" y2="494.00" stroke="#b8103a" stroke-width="1.4"/>
<circle cx="28.70" cy="494.00" r="2.2" fill="#c8002c" stroke="#111" stroke-width="0.95"/>
<text x="35.19" y="496.30" font-size="7.7" fill="#1e1e1e" stroke="#1e1e1e" stroke-width="0.12" textLength="153.22" lengthAdjust="spacingAndGlyphs">Prednisolone (d4 to d13) + Teduglutide (n=10)</text>
<text x="200.36" y="349.40" font-size="12.2" font-weight="bold" fill="#000" stroke="#000" stroke-width="0.12" textLength="7.71" lengthAdjust="spacingAndGlyphs">F</text>
<line x1="228.90" y1="446.50" x2="231.90" y2="446.50" stroke="#2a2a2a" stroke-width="1.1"/>
<text x="222.04" y="449.00" font-size="8.5" fill="#1e1e1e" stroke="#1e1e1e" stroke-width="0.12" textLength="4.25" lengthAdjust="spacingAndGlyphs">0</text>
<line x1="228.90" y1="430.70" x2="231.90" y2="430.70" stroke="#2a2a2a" stroke-width="1.1"/>
<text x="222.12" y="433.20" font-size="8.5" fill="#1e1e1e" stroke="#1e1e1e" stroke-width="0.12" textLength="4.25" lengthAdjust="spacingAndGlyphs">1</text>
<line x1="228.90" y1="414.90" x2="231.90" y2="414.90" stroke="#2a2a2a" stroke-width="1.1"/>
<text x="222.13" y="417.40" font-size="8.5" fill="#1e1e1e" stroke="#1e1e1e" stroke-width="0.12" textLength="4.25" lengthAdjust="spacingAndGlyphs">2</text>
<line x1="228.90" y1="399.10" x2="231.90" y2="399.10" stroke="#2a2a2a" stroke-width="1.1"/>
<text x="222.08" y="401.60" font-size="8.5" fill="#1e1e1e" stroke="#1e1e1e" stroke-width="0.12" textLength="4.25" lengthAdjust="spacingAndGlyphs">3</text>
<line x1="228.90" y1="383.30" x2="231.90" y2="383.30" stroke="#2a2a2a" stroke-width="1.1"/>
<text x="221.97" y="385.80" font-size="8.5" fill="#1e1e1e" stroke="#1e1e1e" stroke-width="0.12" textLength="4.25" lengthAdjust="spacingAndGlyphs">4</text>
<line x1="228.90" y1="367.50" x2="231.90" y2="367.50" stroke="#2a2a2a" stroke-width="1.1"/>
<text x="222.07" y="370.00" font-size="8.5" fill="#1e1e1e" stroke="#1e1e1e" stroke-width="0.12" textLength="4.25" lengthAdjust="spacingAndGlyphs">5</text>
<rect x="236.90" y="398.50" width="16.10" height="48.00" fill="#b9d89e"/>
<rect x="261.30" y="420.00" width="16.00" height="26.50" fill="#d58c7e"/>
<line x1="231.90" y1="365.00" x2="231.90" y2="447.00" stroke="#2a2a2a" stroke-width="1.5"/>
<line x1="231.30" y1="446.50" x2="281.20" y2="446.50" stroke="#2a2a2a" stroke-width="1.4"/>
<circle cx="241.40" cy="383.70" r="2.15" fill="#6cbf43" stroke="#111" stroke-width="0.95"/>
<circle cx="248.40" cy="383.70" r="2.15" fill="#6cbf43" stroke="#111" stroke-width="0.95"/>
<circle cx="245.10" cy="399.30" r="2.15" fill="#6cbf43" stroke="#111" stroke-width="0.95"/>
<circle cx="240.40" cy="399.30" r="2.15" fill="#6cbf43" stroke="#111" stroke-width="0.95"/>
<circle cx="249.60" cy="399.30" r="2.15" fill="#6cbf43" stroke="#111" stroke-width="0.95"/>
<circle cx="244.70" cy="407.50" r="2.15" fill="#6cbf43" stroke="#111" stroke-width="0.95"/>
<circle cx="241.20" cy="407.50" r="2.15" fill="#6cbf43" stroke="#111" stroke-width="0.95"/>
<circle cx="248.40" cy="407.50" r="2.15" fill="#6cbf43" stroke="#111" stroke-width="0.95"/>
<circle cx="269.20" cy="415.30" r="2.15" fill="#c8002c" stroke="#111" stroke-width="0.95"/>
<circle cx="265.70" cy="415.30" r="2.15" fill="#c8002c" stroke="#111" stroke-width="0.95"/>
<circle cx="273.10" cy="415.30" r="2.15" fill="#c8002c" stroke="#111" stroke-width="0.95"/>
<circle cx="268.70" cy="423.50" r="2.15" fill="#c8002c" stroke="#111" stroke-width="0.95"/>
<circle cx="265.70" cy="431.10" r="2.15" fill="#c8002c" stroke="#111" stroke-width="0.95"/>
<circle cx="272.60" cy="431.10" r="2.15" fill="#c8002c" stroke="#111" stroke-width="0.95"/>
<line x1="245.00" y1="396.30" x2="245.00" y2="401.30" stroke="#222" stroke-width="0.9"/>
<line x1="241.50" y1="396.30" x2="248.50" y2="396.30" stroke="#222" stroke-width="0.9"/>
<line x1="241.50" y1="401.30" x2="248.50" y2="401.30" stroke="#222" stroke-width="0.9"/>
<line x1="269.20" y1="415.30" x2="269.20" y2="421.50" stroke="#222" stroke-width="0.9"/>
<line x1="265.70" y1="415.30" x2="272.70" y2="415.30" stroke="#222" stroke-width="0.9"/>
<line x1="265.70" y1="421.50" x2="272.70" y2="421.50" stroke="#222" stroke-width="0.9"/>
<path d="M244.60,372.50 V370.00 H266.50 V372.50" stroke="#222" stroke-width="1.0" fill="none"/>
<text x="239.00" y="368.10" font-size="8.0" fill="#1e1e1e" stroke="#1e1e1e" stroke-width="0.12" textLength="31.76" lengthAdjust="spacingAndGlyphs">P=0.0001</text>
<text x="230.84" y="354.20" font-size="8.9" fill="#1e1e1e" stroke="#1e1e1e" stroke-width="0.12" textLength="52.42" lengthAdjust="spacingAndGlyphs">Small Intestine</text>
<text transform="rotate(-90)" x="-443.87" y="216.20" font-size="9.6" fill="#1e1e1e" stroke="#1e1e1e" stroke-width="0.2" textLength="71.20" lengthAdjust="spacingAndGlyphs">GvHD histology score</text>
<line x1="315.00" y1="446.50" x2="318.00" y2="446.50" stroke="#2a2a2a" stroke-width="1.1"/>
<text x="308.14" y="449.00" font-size="8.5" fill="#1e1e1e" stroke="#1e1e1e" stroke-width="0.12" textLength="4.25" lengthAdjust="spacingAndGlyphs">0</text>
<line x1="315.00" y1="431.10" x2="318.00" y2="431.10" stroke="#2a2a2a" stroke-width="1.1"/>
<text x="308.22" y="433.60" font-size="8.5" fill="#1e1e1e" stroke="#1e1e1e" stroke-width="0.12" textLength="4.25" lengthAdjust="spacingAndGlyphs">1</text>
<line x1="315.00" y1="415.70" x2="318.00" y2="415.70" stroke="#2a2a2a" stroke-width="1.1"/>
<text x="308.23" y="418.20" font-size="8.5" fill="#1e1e1e" stroke="#1e1e1e" stroke-width="0.12" textLength="4.25" lengthAdjust="spacingAndGlyphs">2</text>
<line x1="315.00" y1="400.30" x2="318.00" y2="400.30" stroke="#2a2a2a" stroke-width="1.1"/>
<text x="308.18" y="402.80" font-size="8.5" fill="#1e1e1e" stroke="#1e1e1e" stroke-width="0.12" textLength="4.25" lengthAdjust="spacingAndGlyphs">3</text>
<line x1="315.00" y1="384.90" x2="318.00" y2="384.90" stroke="#2a2a2a" stroke-width="1.1"/>
<text x="308.07" y="387.40" font-size="8.5" fill="#1e1e1e" stroke="#1e1e1e" stroke-width="0.12" textLength="4.25" lengthAdjust="spacingAndGlyphs">4</text>
<line x1="315.00" y1="369.50" x2="318.00" y2="369.50" stroke="#2a2a2a" stroke-width="1.1"/>
<text x="308.17" y="372.00" font-size="8.5" fill="#1e1e1e" stroke="#1e1e1e" stroke-width="0.12" textLength="4.25" lengthAdjust="spacingAndGlyphs">5</text>
<rect x="323.80" y="396.00" width="15.80" height="50.50" fill="#b9d89e"/>
<rect x="349.50" y="422.30" width="15.80" height="24.20" fill="#d58c7e"/>
<line x1="318.00" y1="365.00" x2="318.00" y2="447.00" stroke="#2a2a2a" stroke-width="1.5"/>
<line x1="317.40" y1="446.50" x2="370.60" y2="446.50" stroke="#2a2a2a" stroke-width="1.4"/>
<circle cx="331.70" cy="385.00" r="2.15" fill="#6cbf43" stroke="#111" stroke-width="0.95"/>
<circle cx="331.50" cy="392.50" r="2.15" fill="#6cbf43" stroke="#111" stroke-width="0.95"/>
<circle cx="328.20" cy="392.50" r="2.15" fill="#6cbf43" stroke="#111" stroke-width="0.95"/>
<circle cx="334.70" cy="392.50" r="2.15" fill="#6cbf43" stroke="#111" stroke-width="0.95"/>
<circle cx="331.50" cy="400.40" r="2.15" fill="#6cbf43" stroke="#111" stroke-width="0.95"/>
<circle cx="328.20" cy="400.40" r="2.15" fill="#6cbf43" stroke="#111" stroke-width="0.95"/>
<circle cx="334.70" cy="400.40" r="2.15" fill="#6cbf43" stroke="#111" stroke-width="0.95"/>
<circle cx="357.40" cy="408.30" r="2.15" fill="#c8002c" stroke="#111" stroke-width="0.95"/>
<circle cx="353.60" cy="415.80" r="2.15" fill="#c8002c" stroke="#111" stroke-width="0.95"/>
<circle cx="360.90" cy="415.80" r="2.15" fill="#c8002c" stroke="#111" stroke-width="0.95"/>
<circle cx="353.60" cy="423.70" r="2.15" fill="#c8002c" stroke="#111" stroke-width="0.95"/>
<circle cx="360.90" cy="423.70" r="2.15" fill="#c8002c" stroke="#111" stroke-width="0.95"/>
<circle cx="353.60" cy="431.40" r="2.15" fill="#c8002c" stroke="#111" stroke-width="0.95"/>
<circle cx="360.90" cy="431.40" r="2.15" fill="#c8002c" stroke="#111" stroke-width="0.95"/>
<line x1="331.70" y1="393.00" x2="331.70" y2="399.00" stroke="#222" stroke-width="0.9"/>
<line x1="328.20" y1="393.00" x2="335.20" y2="393.00" stroke="#222" stroke-width="0.9"/>
<line x1="328.20" y1="399.00" x2="335.20" y2="399.00" stroke="#222" stroke-width="0.9"/>
<line x1="357.40" y1="419.00" x2="357.40" y2="425.60" stroke="#222" stroke-width="0.9"/>
<line x1="353.90" y1="419.00" x2="360.90" y2="419.00" stroke="#222" stroke-width="0.9"/>
<line x1="353.90" y1="425.60" x2="360.90" y2="425.60" stroke="#222" stroke-width="0.9"/>
<path d="M330.60,374.00 V371.50 H358.00 V374.00" stroke="#222" stroke-width="1.0" fill="none"/>
<text x="327.58" y="369.80" font-size="8.0" fill="#1e1e1e" stroke="#1e1e1e" stroke-width="0.12" textLength="32.49" lengthAdjust="spacingAndGlyphs">P=0.0001</text>
<text x="318.24" y="354.00" font-size="8.9" fill="#1e1e1e" stroke="#1e1e1e" stroke-width="0.12" textLength="53.01" lengthAdjust="spacingAndGlyphs">Large Intestine</text>
<text transform="rotate(-90)" x="-443.87" y="302.20" font-size="9.6" fill="#1e1e1e" stroke="#1e1e1e" stroke-width="0.2" textLength="71.20" lengthAdjust="spacingAndGlyphs">GvHD histology score</text>
<line x1="402.10" y1="446.80" x2="405.10" y2="446.80" stroke="#2a2a2a" stroke-width="1.1"/>
<text x="395.24" y="449.30" font-size="8.5" fill="#1e1e1e" stroke="#1e1e1e" stroke-width="0.12" textLength="4.25" lengthAdjust="spacingAndGlyphs">0</text>
<line x1="402.10" y1="427.20" x2="405.10" y2="427.20" stroke="#2a2a2a" stroke-width="1.1"/>
<text x="395.32" y="429.70" font-size="8.5" fill="#1e1e1e" stroke="#1e1e1e" stroke-width="0.12" textLength="4.25" lengthAdjust="spacingAndGlyphs">1</text>
<line x1="402.10" y1="407.60" x2="405.10" y2="407.60" stroke="#2a2a2a" stroke-width="1.1"/>
<text x="395.33" y="410.10" font-size="8.5" fill="#1e1e1e" stroke="#1e1e1e" stroke-width="0.12" textLength="4.25" lengthAdjust="spacingAndGlyphs">2</text>
<line x1="402.10" y1="388.00" x2="405.10" y2="388.00" stroke="#2a2a2a" stroke-width="1.1"/>
<text x="395.28" y="390.50" font-size="8.5" fill="#1e1e1e" stroke="#1e1e1e" stroke-width="0.12" textLength="4.25" lengthAdjust="spacingAndGlyphs">3</text>
<line x1="402.10" y1="368.40" x2="405.10" y2="368.40" stroke="#2a2a2a" stroke-width="1.1"/>
<text x="395.17" y="370.90" font-size="8.5" fill="#1e1e1e" stroke="#1e1e1e" stroke-width="0.12" textLength="4.25" lengthAdjust="spacingAndGlyphs">4</text>
<rect x="410.00" y="389.40" width="15.80" height="57.40" fill="#b9d89e"/>
<rect x="436.00" y="399.90" width="16.00" height="46.90" fill="#d58c7e"/>
<line x1="405.10" y1="365.00" x2="405.10" y2="447.30" stroke="#2a2a2a" stroke-width="1.5"/>
<line x1="404.50" y1="446.80" x2="456.40" y2="446.80" stroke="#2a2a2a" stroke-width="1.4"/>
<circle cx="414.90" cy="378.50" r="2.15" fill="#6cbf43" stroke="#111" stroke-width="0.95"/>
<circle cx="421.40" cy="378.50" r="2.15" fill="#6cbf43" stroke="#111" stroke-width="0.95"/>
<circle cx="414.90" cy="388.50" r="2.15" fill="#6cbf43" stroke="#111" stroke-width="0.95"/>
<circle cx="421.00" cy="388.50" r="2.15" fill="#6cbf43" stroke="#111" stroke-width="0.95"/>
<circle cx="411.80" cy="388.50" r="2.15" fill="#6cbf43" stroke="#111" stroke-width="0.95"/>
<circle cx="417.90" cy="388.50" r="2.15" fill="#6cbf43" stroke="#111" stroke-width="0.95"/>
<circle cx="424.00" cy="388.50" r="2.15" fill="#6cbf43" stroke="#111" stroke-width="0.95"/>
<circle cx="417.90" cy="397.80" r="2.15" fill="#6cbf43" stroke="#111" stroke-width="0.95"/>
<circle cx="417.90" cy="408.00" r="2.15" fill="#6cbf43" stroke="#111" stroke-width="0.95"/>
<circle cx="443.80" cy="378.50" r="2.15" fill="#c8002c" stroke="#111" stroke-width="0.95"/>
<circle cx="443.80" cy="388.50" r="2.15" fill="#c8002c" stroke="#111" stroke-width="0.95"/>
<circle cx="440.10" cy="388.50" r="2.15" fill="#c8002c" stroke="#111" stroke-width="0.95"/>
<circle cx="447.70" cy="388.50" r="2.15" fill="#c8002c" stroke="#111" stroke-width="0.95"/>
<circle cx="443.80" cy="397.80" r="2.15" fill="#c8002c" stroke="#111" stroke-width="0.95"/>
<circle cx="440.10" cy="417.60" r="2.15" fill="#c8002c" stroke="#111" stroke-width="0.95"/>
<circle cx="447.70" cy="417.60" r="2.15" fill="#c8002c" stroke="#111" stroke-width="0.95"/>
<circle cx="443.80" cy="427.20" r="2.15" fill="#c8002c" stroke="#111" stroke-width="0.95"/>
<line x1="417.90" y1="386.40" x2="417.90" y2="392.40" stroke="#222" stroke-width="0.9"/>
<line x1="414.40" y1="386.40" x2="421.40" y2="386.40" stroke="#222" stroke-width="0.9"/>
<line x1="414.40" y1="392.40" x2="421.40" y2="392.40" stroke="#222" stroke-width="0.9"/>
<line x1="443.80" y1="393.40" x2="443.80" y2="405.10" stroke="#222" stroke-width="0.9"/>
<line x1="440.30" y1="393.40" x2="447.30" y2="393.40" stroke="#222" stroke-width="0.9"/>
<line x1="440.30" y1="405.10" x2="447.30" y2="405.10" stroke="#222" stroke-width="0.9"/>
<path d="M416.50,369.40 V366.60 H444.70 V369.40" stroke="#222" stroke-width="1.0" fill="none"/>
<text x="413.77" y="364.90" font-size="8.0" fill="#1e1e1e" stroke="#1e1e1e" stroke-width="0.12" textLength="33.11" lengthAdjust="spacingAndGlyphs">P=0.2391</text>
<text x="422.14" y="354.00" font-size="8.9" fill="#1e1e1e" stroke="#1e1e1e" stroke-width="0.12" textLength="17.39" lengthAdjust="spacingAndGlyphs">Liver</text>
<text transform="rotate(-90)" x="-443.87" y="389.20" font-size="9.6" fill="#1e1e1e" stroke="#1e1e1e" stroke-width="0.2" textLength="71.20" lengthAdjust="spacingAndGlyphs">GvHD histology score</text>
<circle cx="238.75" cy="483.25" r="2.2" fill="#6cbf43" stroke="#111" stroke-width="0.95"/>
<text x="243.39" y="485.65" font-size="7.7" fill="#1e1e1e" stroke="#1e1e1e" stroke-width="0.12" textLength="96.33" lengthAdjust="spacingAndGlyphs">Prednisolone + Vehicle (n=9)</text>
<circle cx="238.75" cy="493.75" r="2.2" fill="#c8002c" stroke="#111" stroke-width="0.95"/>
<text x="243.39" y="496.15" font-size="7.7" fill="#1e1e1e" stroke="#1e1e1e" stroke-width="0.12" textLength="110.86" lengthAdjust="spacingAndGlyphs">Prednisolone + Teduglutide (n=9)</text>
<text x="6.00" y="518.00" font-size="12.2" font-weight="bold" fill="#000" stroke="#000" stroke-width="0.12" textLength="9.45" lengthAdjust="spacingAndGlyphs">G</text>
<text x="56.10" y="524.70" font-size="9.9" fill="#1e1e1e" stroke="#1e1e1e" stroke-width="0.18" textLength="85.85" lengthAdjust="spacingAndGlyphs">BALB/c into BALB/c</text>
<line x1="45.30" y1="598.60" x2="48.30" y2="598.60" stroke="#2a2a2a" stroke-width="1.1"/>
<text x="37.94" y="601.10" font-size="8.5" fill="#1e1e1e" stroke="#1e1e1e" stroke-width="0.12" textLength="4.25" lengthAdjust="spacingAndGlyphs">0</text>
<line x1="45.30" y1="585.52" x2="48.30" y2="585.52" stroke="#2a2a2a" stroke-width="1.1"/>
<text x="33.69" y="588.02" font-size="8.5" fill="#1e1e1e" stroke="#1e1e1e" stroke-width="0.12" textLength="8.51" lengthAdjust="spacingAndGlyphs">20</text>
<line x1="45.30" y1="572.44" x2="48.30" y2="572.44" stroke="#2a2a2a" stroke-width="1.1"/>
<text x="33.69" y="574.94" font-size="8.5" fill="#1e1e1e" stroke="#1e1e1e" stroke-width="0.12" textLength="8.51" lengthAdjust="spacingAndGlyphs">40</text>
<line x1="45.30" y1="559.36" x2="48.30" y2="559.36" stroke="#2a2a2a" stroke-width="1.1"/>
<text x="33.69" y="561.86" font-size="8.5" fill="#1e1e1e" stroke="#1e1e1e" stroke-width="0.12" textLength="8.51" lengthAdjust="spacingAndGlyphs">60</text>
<line x1="45.30" y1="546.28" x2="48.30" y2="546.28" stroke="#2a2a2a" stroke-width="1.1"/>
<text x="33.69" y="548.78" font-size="8.5" fill="#1e1e1e" stroke="#1e1e1e" stroke-width="0.12" textLength="8.51" lengthAdjust="spacingAndGlyphs">80</text>
<line x1="45.30" y1="533.20" x2="48.30" y2="533.20" stroke="#2a2a2a" stroke-width="1.1"/>
<text x="29.44" y="535.70" font-size="8.5" fill="#1e1e1e" stroke="#1e1e1e" stroke-width="0.12" textLength="12.76" lengthAdjust="spacingAndGlyphs">100</text>
<line x1="48.10" y1="598.60" x2="48.10" y2="601.60" stroke="#2a2a2a" stroke-width="1.1"/>
<text x="45.97" y="610.80" font-size="8.5" fill="#1e1e1e" stroke="#1e1e1e" stroke-width="0.12" textLength="4.25" lengthAdjust="spacingAndGlyphs">0</text>
<line x1="64.65" y1="598.60" x2="64.65" y2="601.60" stroke="#2a2a2a" stroke-width="1.1"/>
<text x="60.25" y="610.80" font-size="8.5" fill="#1e1e1e" stroke="#1e1e1e" stroke-width="0.12" textLength="8.51" lengthAdjust="spacingAndGlyphs">10</text>
<line x1="81.20" y1="598.60" x2="81.20" y2="601.60" stroke="#2a2a2a" stroke-width="1.1"/>
<text x="76.90" y="610.80" font-size="8.5" fill="#1e1e1e" stroke="#1e1e1e" stroke-width="0.12" textLength="8.51" lengthAdjust="spacingAndGlyphs">20</text>
<line x1="97.75" y1="598.60" x2="97.75" y2="601.60" stroke="#2a2a2a" stroke-width="1.1"/>
<text x="93.50" y="610.80" font-size="8.5" fill="#1e1e1e" stroke="#1e1e1e" stroke-width="0.12" textLength="8.51" lengthAdjust="spacingAndGlyphs">30</text>
<line x1="114.30" y1="598.60" x2="114.30" y2="601.60" stroke="#2a2a2a" stroke-width="1.1"/>
<text x="110.11" y="610.80" font-size="8.5" fill="#1e1e1e" stroke="#1e1e1e" stroke-width="0.12" textLength="8.51" lengthAdjust="spacingAndGlyphs">40</text>
<line x1="130.85" y1="598.60" x2="130.85" y2="601.60" stroke="#2a2a2a" stroke-width="1.1"/>
<text x="126.59" y="610.80" font-size="8.5" fill="#1e1e1e" stroke="#1e1e1e" stroke-width="0.12" textLength="8.51" lengthAdjust="spacingAndGlyphs">50</text>
<line x1="147.40" y1="598.60" x2="147.40" y2="601.60" stroke="#2a2a2a" stroke-width="1.1"/>
<text x="143.10" y="610.80" font-size="8.5" fill="#1e1e1e" stroke="#1e1e1e" stroke-width="0.12" textLength="8.51" lengthAdjust="spacingAndGlyphs">60</text>
<line x1="48.30" y1="530.50" x2="48.30" y2="599.10" stroke="#2a2a2a" stroke-width="1.5"/>
<line x1="47.70" y1="598.60" x2="150.80" y2="598.60" stroke="#2a2a2a" stroke-width="1.4"/>
<text transform="rotate(-90)" x="-590.82" y="23.20" font-size="9.7" fill="#1e1e1e" stroke="#1e1e1e" stroke-width="0.2" textLength="54.13" lengthAdjust="spacingAndGlyphs">Percent survival</text>
<text x="68.33" y="623.80" font-size="9.7" fill="#1e1e1e" stroke="#1e1e1e" stroke-width="0.2" textLength="60.73" lengthAdjust="spacingAndGlyphs">Days after syn-HCT</text>
<line x1="48.30" y1="534.50" x2="148.10" y2="534.50" stroke="#7dc757" stroke-width="1.4"/>
<line x1="48.30" y1="533.10" x2="148.10" y2="533.10" stroke="#b8103a" stroke-width="1.4"/>
<circle cx="148.10" cy="534.20" r="2.2" fill="#6cbf43" stroke="#111" stroke-width="0.95"/>
<circle cx="148.10" cy="533.30" r="2.2" fill="#c8002c" stroke="#111" stroke-width="0.95"/>
<line x1="24.00" y1="634.60" x2="33.00" y2="634.60" stroke="#7dc757" stroke-width="1.4"/>
<circle cx="28.80" cy="634.60" r="2.2" fill="#6cbf43" stroke="#111" stroke-width="0.95"/>
<text x="35.33" y="636.90" font-size="7.7" fill="#1e1e1e" stroke="#1e1e1e" stroke-width="0.12" textLength="102.11" lengthAdjust="spacingAndGlyphs">TBI/syn-BM/Tc + Vehicle (n=5)</text>
<line x1="24.00" y1="645.40" x2="33.00" y2="645.40" stroke="#b8103a" stroke-width="1.4"/>
<circle cx="28.80" cy="645.40" r="2.2" fill="#c8002c" stroke="#111" stroke-width="0.95"/>
<text x="35.33" y="647.70" font-size="7.7" fill="#1e1e1e" stroke="#1e1e1e" stroke-width="0.12" textLength="116.64" lengthAdjust="spacingAndGlyphs">TBI/syn-BM/Tc + Teduglutide (n=5)</text>
<text x="159.26" y="516.90" font-size="12.2" font-weight="bold" fill="#000" stroke="#000" stroke-width="0.12" textLength="10.20" lengthAdjust="spacingAndGlyphs">H</text>
<line x1="217.30" y1="598.30" x2="220.30" y2="598.30" stroke="#2a2a2a" stroke-width="1.1"/>
<text x="203.46" y="600.80" font-size="8.5" fill="#1e1e1e" stroke="#1e1e1e" stroke-width="0.12" textLength="10.63" lengthAdjust="spacingAndGlyphs">0.0</text>
<line x1="217.30" y1="579.55" x2="220.30" y2="579.55" stroke="#2a2a2a" stroke-width="1.1"/>
<text x="203.49" y="582.05" font-size="8.5" fill="#1e1e1e" stroke="#1e1e1e" stroke-width="0.12" textLength="10.63" lengthAdjust="spacingAndGlyphs">0.5</text>
<line x1="217.30" y1="560.80" x2="220.30" y2="560.80" stroke="#2a2a2a" stroke-width="1.1"/>
<text x="203.46" y="563.30" font-size="8.5" fill="#1e1e1e" stroke="#1e1e1e" stroke-width="0.12" textLength="10.63" lengthAdjust="spacingAndGlyphs">1.0</text>
<line x1="217.30" y1="542.05" x2="220.30" y2="542.05" stroke="#2a2a2a" stroke-width="1.1"/>
<text x="203.49" y="544.55" font-size="8.5" fill="#1e1e1e" stroke="#1e1e1e" stroke-width="0.12" textLength="10.63" lengthAdjust="spacingAndGlyphs">1.5</text>
<rect x="223.80" y="575.40" width="11.70" height="22.90" fill="#b9d89e"/>
<rect x="242.30" y="561.70" width="11.90" height="36.60" fill="#d58c7e"/>
<line x1="220.30" y1="539.50" x2="220.30" y2="598.80" stroke="#2a2a2a" stroke-width="1.5"/>
<line x1="219.70" y1="598.30" x2="257.80" y2="598.30" stroke="#2a2a2a" stroke-width="1.4"/>
<circle cx="229.60" cy="562.90" r="1.75" fill="#6cbf43" stroke="#111" stroke-width="0.95"/>
<circle cx="224.20" cy="571.30" r="1.75" fill="#6cbf43" stroke="#111" stroke-width="0.95"/>
<circle cx="225.60" cy="573.90" r="1.75" fill="#6cbf43" stroke="#111" stroke-width="0.95"/>
<circle cx="229.60" cy="573.10" r="1.75" fill="#6cbf43" stroke="#111" stroke-width="0.95"/>
<circle cx="232.20" cy="573.90" r="1.75" fill="#6cbf43" stroke="#111" stroke-width="0.95"/>
<circle cx="234.90" cy="572.70" r="1.75" fill="#6cbf43" stroke="#111" stroke-width="0.95"/>
<circle cx="228.00" cy="575.40" r="1.75" fill="#6cbf43" stroke="#111" stroke-width="0.95"/>
<circle cx="229.60" cy="578.10" r="1.75" fill="#6cbf43" stroke="#111" stroke-width="0.95"/>
<circle cx="229.60" cy="583.40" r="1.75" fill="#6cbf43" stroke="#111" stroke-width="0.95"/>
<circle cx="226.50" cy="576.50" r="1.75" fill="#6cbf43" stroke="#111" stroke-width="0.95"/>
<circle cx="248.30" cy="547.90" r="1.75" fill="#c8002c" stroke="#111" stroke-width="0.95"/>
<circle cx="251.00" cy="553.90" r="1.75" fill="#c8002c" stroke="#111" stroke-width="0.95"/>
<circle cx="245.90" cy="558.40" r="1.75" fill="#c8002c" stroke="#111" stroke-width="0.95"/>
<circle cx="252.20" cy="560.20" r="1.75" fill="#c8002c" stroke="#111" stroke-width="0.95"/>
<circle cx="244.30" cy="562.00" r="1.75" fill="#c8002c" stroke="#111" stroke-width="0.95"/>
<circle cx="250.10" cy="562.00" r="1.75" fill="#c8002c" stroke="#111" stroke-width="0.95"/>
<circle cx="247.70" cy="561.10" r="1.75" fill="#c8002c" stroke="#111" stroke-width="0.95"/>
<circle cx="248.30" cy="565.20" r="1.75" fill="#c8002c" stroke="#111" stroke-width="0.95"/>
<circle cx="244.30" cy="567.10" r="1.75" fill="#c8002c" stroke="#111" stroke-width="0.95"/>
<circle cx="248.30" cy="570.30" r="1.75" fill="#c8002c" stroke="#111" stroke-width="0.95"/>
<circle cx="252.20" cy="570.00" r="1.75" fill="#c8002c" stroke="#111" stroke-width="0.95"/>
<path d="M233.40,542.00 V539.60 H246.70 V542.00" stroke="#222" stroke-width="1.0" fill="none"/>
<text x="223.17" y="537.30" font-size="8.0" fill="#1e1e1e" stroke="#1e1e1e" stroke-width="0.12" textLength="33.22" lengthAdjust="spacingAndGlyphs">P=0.0002</text>
<text transform="rotate(-90)" x="-593.21" y="186.50" font-size="9.6" fill="#1e1e1e" stroke="#1e1e1e" stroke-width="0.15" textLength="29.07" lengthAdjust="spacingAndGlyphs" xml:space="preserve">Relative </text>
<text transform="rotate(-90)" x="-564.14" y="186.50" font-size="9.6" font-style="italic" fill="#1e1e1e" stroke="#1e1e1e" stroke-width="0.15" textLength="19.52" lengthAdjust="spacingAndGlyphs" xml:space="preserve">Cldn4</text>
<text transform="rotate(-90)" x="-586.82" y="197.80" font-size="9.6" fill="#1e1e1e" stroke="#1e1e1e" stroke-width="0.15" textLength="36.00" lengthAdjust="spacingAndGlyphs">expression</text>
<circle cx="162.80" cy="635.00" r="2.2" fill="#6cbf43" stroke="#111" stroke-width="0.95"/>
<text x="167.88" y="637.40" font-size="7.7" fill="#1e1e1e" stroke="#1e1e1e" stroke-width="0.12" textLength="92.15" lengthAdjust="spacingAndGlyphs">TBI/BM/Tc + Vehicle (n=10)</text>
<circle cx="162.80" cy="646.00" r="2.2" fill="#c8002c" stroke="#111" stroke-width="0.95"/>
<text x="167.88" y="648.40" font-size="7.7" fill="#1e1e1e" stroke="#1e1e1e" stroke-width="0.12" textLength="106.69" lengthAdjust="spacingAndGlyphs">TBI/BM/Tc + Teduglutide (n=11)</text>
<text x="282.65" y="516.90" font-size="12.2" font-weight="bold" fill="#000" stroke="#000" stroke-width="0.12" textLength="5.21" lengthAdjust="spacingAndGlyphs">I</text>
<line x1="341.50" y1="598.30" x2="344.50" y2="598.30" stroke="#2a2a2a" stroke-width="1.1"/>
<text x="327.46" y="600.80" font-size="8.5" fill="#1e1e1e" stroke="#1e1e1e" stroke-width="0.12" textLength="10.63" lengthAdjust="spacingAndGlyphs">0.0</text>
<line x1="341.50" y1="586.82" x2="344.50" y2="586.82" stroke="#2a2a2a" stroke-width="1.1"/>
<text x="327.49" y="589.32" font-size="8.5" fill="#1e1e1e" stroke="#1e1e1e" stroke-width="0.12" textLength="10.63" lengthAdjust="spacingAndGlyphs">0.5</text>
<line x1="341.50" y1="575.34" x2="344.50" y2="575.34" stroke="#2a2a2a" stroke-width="1.1"/>
<text x="327.46" y="577.84" font-size="8.5" fill="#1e1e1e" stroke="#1e1e1e" stroke-width="0.12" textLength="10.63" lengthAdjust="spacingAndGlyphs">1.0</text>
<line x1="341.50" y1="563.86" x2="344.50" y2="563.86" stroke="#2a2a2a" stroke-width="1.1"/>
<text x="327.49" y="566.36" font-size="8.5" fill="#1e1e1e" stroke="#1e1e1e" stroke-width="0.12" textLength="10.63" lengthAdjust="spacingAndGlyphs">1.5</text>
<line x1="341.50" y1="552.38" x2="344.50" y2="552.38" stroke="#2a2a2a" stroke-width="1.1"/>
<text x="327.46" y="554.88" font-size="8.5" fill="#1e1e1e" stroke="#1e1e1e" stroke-width="0.12" textLength="10.63" lengthAdjust="spacingAndGlyphs">2.0</text>
<line x1="341.50" y1="540.90" x2="344.50" y2="540.90" stroke="#2a2a2a" stroke-width="1.1"/>
<text x="327.49" y="543.40" font-size="8.5" fill="#1e1e1e" stroke="#1e1e1e" stroke-width="0.12" textLength="10.63" lengthAdjust="spacingAndGlyphs">2.5</text>
<rect x="346.90" y="583.50" width="10.30" height="14.80" fill="#b9d89e"/>
<rect x="363.00" y="578.10" width="10.10" height="20.20" fill="#d58c7e"/>
<line x1="344.50" y1="539.00" x2="344.50" y2="598.80" stroke="#2a2a2a" stroke-width="1.5"/>
<line x1="343.90" y1="598.30" x2="376.20" y2="598.30" stroke="#2a2a2a" stroke-width="1.4"/>
<circle cx="351.90" cy="577.90" r="1.75" fill="#6cbf43" stroke="#111" stroke-width="0.95"/>
<circle cx="349.10" cy="579.70" r="1.75" fill="#6cbf43" stroke="#111" stroke-width="0.95"/>
<circle cx="352.50" cy="582.00" r="1.75" fill="#6cbf43" stroke="#111" stroke-width="0.95"/>
<circle cx="353.50" cy="586.50" r="1.75" fill="#6cbf43" stroke="#111" stroke-width="0.95"/>
<circle cx="348.70" cy="583.60" r="1.75" fill="#6cbf43" stroke="#111" stroke-width="0.95"/>
<circle cx="350.80" cy="584.70" r="1.75" fill="#6cbf43" stroke="#111" stroke-width="0.95"/>
<circle cx="354.60" cy="583.80" r="1.75" fill="#6cbf43" stroke="#111" stroke-width="0.95"/>
<circle cx="351.90" cy="589.30" r="1.75" fill="#6cbf43" stroke="#111" stroke-width="0.95"/>
<circle cx="372.00" cy="548.00" r="1.75" fill="#c8002c" stroke="#111" stroke-width="0.95"/>
<circle cx="370.30" cy="573.80" r="1.75" fill="#c8002c" stroke="#111" stroke-width="0.95"/>
<circle cx="362.40" cy="578.40" r="1.75" fill="#c8002c" stroke="#111" stroke-width="0.95"/>
<circle cx="366.50" cy="581.00" r="1.75" fill="#c8002c" stroke="#111" stroke-width="0.95"/>
<circle cx="367.00" cy="583.50" r="1.75" fill="#c8002c" stroke="#111" stroke-width="0.95"/>
<circle cx="365.10" cy="582.50" r="1.75" fill="#c8002c" stroke="#111" stroke-width="0.95"/>
<circle cx="370.90" cy="582.70" r="1.75" fill="#c8002c" stroke="#111" stroke-width="0.95"/>
<circle cx="369.00" cy="584.30" r="1.75" fill="#c8002c" stroke="#111" stroke-width="0.95"/>
<line x1="367.80" y1="572.40" x2="367.80" y2="583.00" stroke="#222" stroke-width="0.9"/>
<line x1="365.50" y1="572.40" x2="370.10" y2="572.40" stroke="#222" stroke-width="0.9"/>
<line x1="365.50" y1="583.00" x2="370.10" y2="583.00" stroke="#222" stroke-width="0.9"/>
<path d="M349.20,541.60 V538.80 H369.50 V541.60" stroke="#222" stroke-width="1.0" fill="none"/>
<text x="344.50" y="536.00" font-size="8.0" fill="#1e1e1e" stroke="#1e1e1e" stroke-width="0.12" textLength="28.49" lengthAdjust="spacingAndGlyphs">not sign.</text>
<text transform="rotate(-90)" x="-591.80" y="309.90" font-size="9.6" fill="#1e1e1e" stroke="#1e1e1e" stroke-width="0.15" textLength="28.27" lengthAdjust="spacingAndGlyphs" xml:space="preserve">Relative </text>
<text transform="rotate(-90)" x="-563.52" y="309.90" font-size="9.6" font-style="italic" fill="#1e1e1e" stroke="#1e1e1e" stroke-width="0.15" textLength="17.37" lengthAdjust="spacingAndGlyphs" xml:space="preserve">Chga</text>
<text transform="rotate(-90)" x="-587.32" y="321.70" font-size="9.6" fill="#1e1e1e" stroke="#1e1e1e" stroke-width="0.15" textLength="36.41" lengthAdjust="spacingAndGlyphs">expression</text>
<circle cx="285.70" cy="635.00" r="2.2" fill="#6cbf43" stroke="#111" stroke-width="0.95"/>
<text x="290.78" y="637.40" font-size="7.7" fill="#1e1e1e" stroke="#1e1e1e" stroke-width="0.12" textLength="88.00" lengthAdjust="spacingAndGlyphs">TBI/BM/Tc + Vehicle (n=8)</text>
<circle cx="285.70" cy="646.00" r="2.2" fill="#c8002c" stroke="#111" stroke-width="0.95"/>
<text x="290.78" y="648.40" font-size="7.7" fill="#1e1e1e" stroke="#1e1e1e" stroke-width="0.12" textLength="102.53" lengthAdjust="spacingAndGlyphs">TBI/BM/Tc + Teduglutide (n=8)</text>
<text x="402.19" y="518.00" font-size="12.2" font-weight="bold" fill="#000" stroke="#000" stroke-width="0.12" textLength="7.88" lengthAdjust="spacingAndGlyphs">J</text>
<line x1="453.30" y1="598.10" x2="456.30" y2="598.10" stroke="#2a2a2a" stroke-width="1.1"/>
<text x="446.14" y="600.60" font-size="8.5" fill="#1e1e1e" stroke="#1e1e1e" stroke-width="0.12" textLength="4.25" lengthAdjust="spacingAndGlyphs">0</text>
<line x1="453.30" y1="580.72" x2="456.30" y2="580.72" stroke="#2a2a2a" stroke-width="1.1"/>
<text x="446.23" y="583.22" font-size="8.5" fill="#1e1e1e" stroke="#1e1e1e" stroke-width="0.12" textLength="4.25" lengthAdjust="spacingAndGlyphs">2</text>
<line x1="453.30" y1="563.34" x2="456.30" y2="563.34" stroke="#2a2a2a" stroke-width="1.1"/>
<text x="446.07" y="565.84" font-size="8.5" fill="#1e1e1e" stroke="#1e1e1e" stroke-width="0.12" textLength="4.25" lengthAdjust="spacingAndGlyphs">4</text>
<line x1="453.30" y1="545.96" x2="456.30" y2="545.96" stroke="#2a2a2a" stroke-width="1.1"/>
<text x="446.18" y="548.46" font-size="8.5" fill="#1e1e1e" stroke="#1e1e1e" stroke-width="0.12" textLength="4.25" lengthAdjust="spacingAndGlyphs">6</text>
<rect x="460.20" y="556.40" width="11.30" height="41.70" fill="#b9d89e"/>
<rect x="478.40" y="548.60" width="11.70" height="49.50" fill="#d58c7e"/>
<line x1="456.30" y1="543.00" x2="456.30" y2="598.60" stroke="#2a2a2a" stroke-width="1.5"/>
<line x1="455.70" y1="598.10" x2="493.80" y2="598.10" stroke="#2a2a2a" stroke-width="1.4"/>
<circle cx="465.70" cy="552.70" r="1.75" fill="#6cbf43" stroke="#111" stroke-width="0.95"/>
<circle cx="463.20" cy="558.10" r="1.75" fill="#6cbf43" stroke="#111" stroke-width="0.95"/>
<circle cx="468.30" cy="557.50" r="1.75" fill="#6cbf43" stroke="#111" stroke-width="0.95"/>
<circle cx="481.80" cy="548.60" r="1.75" fill="#c8002c" stroke="#111" stroke-width="0.95"/>
<circle cx="487.00" cy="546.90" r="1.75" fill="#c8002c" stroke="#111" stroke-width="0.95"/>
<line x1="465.80" y1="553.80" x2="465.80" y2="559.00" stroke="#222" stroke-width="0.9"/>
<line x1="463.50" y1="553.80" x2="468.10" y2="553.80" stroke="#222" stroke-width="0.9"/>
<line x1="463.50" y1="559.00" x2="468.10" y2="559.00" stroke="#222" stroke-width="0.9"/>
<line x1="484.30" y1="547.40" x2="484.30" y2="549.80" stroke="#222" stroke-width="0.9"/>
<line x1="482.00" y1="547.40" x2="486.60" y2="547.40" stroke="#222" stroke-width="0.9"/>
<line x1="482.00" y1="549.80" x2="486.60" y2="549.80" stroke="#222" stroke-width="0.9"/>
<path d="M466.70,545.10 V542.40 H483.60 V545.10" stroke="#222" stroke-width="1.0" fill="none"/>
<text x="462.56" y="539.60" font-size="8.0" fill="#1e1e1e" stroke="#1e1e1e" stroke-width="0.12" textLength="24.83" lengthAdjust="spacingAndGlyphs">P=0.02</text>
<text transform="rotate(-90)" x="-590.38" y="429.00" font-size="9.6" font-style="italic" fill="#1e1e1e" stroke="#1e1e1e" stroke-width="0.15" textLength="21.16" lengthAdjust="spacingAndGlyphs" xml:space="preserve">Glp-2r</text>
<text transform="rotate(-90)" x="-569.22" y="429.00" font-size="9.6" fill="#1e1e1e" stroke="#1e1e1e" stroke-width="0.15" textLength="19.06" lengthAdjust="spacingAndGlyphs" xml:space="preserve"> gene</text>
<text transform="rotate(-90)" x="-588.82" y="440.40" font-size="9.6" fill="#1e1e1e" stroke="#1e1e1e" stroke-width="0.15" textLength="36.51" lengthAdjust="spacingAndGlyphs">expression</text>
<circle cx="404.30" cy="635.60" r="2.2" fill="#6cbf43" stroke="#111" stroke-width="0.95"/>
<text x="409.38" y="638.00" font-size="7.7" fill="#1e1e1e" stroke="#1e1e1e" stroke-width="0.12" textLength="88.00" lengthAdjust="spacingAndGlyphs">TBI/BM/Tc + Vehicle (n=3)</text>
<circle cx="404.30" cy="645.50" r="2.2" fill="#c8002c" stroke="#111" stroke-width="0.95"/>
<text x="409.38" y="647.90" font-size="7.7" fill="#1e1e1e" stroke="#1e1e1e" stroke-width="0.12" textLength="102.53" lengthAdjust="spacingAndGlyphs">TBI/BM/Tc + Teduglutide (n=2)</text>
<rect x="0.5" y="0.5" width="519" height="655.6" fill="none" stroke="#000" stroke-width="1"/>
<rect x="0" y="655.6" width="520" height="1.4" fill="#000"/>
</svg>
</body></html>
